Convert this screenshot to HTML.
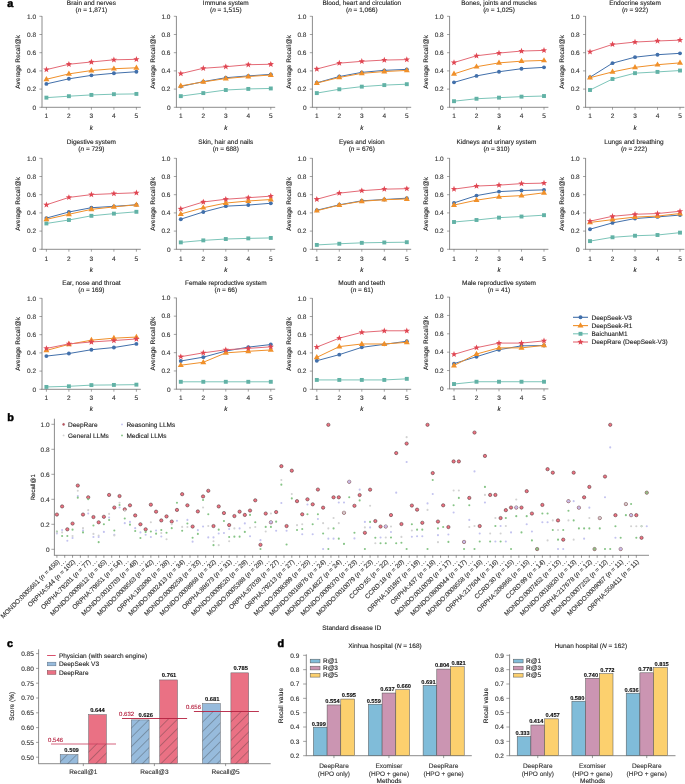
<!DOCTYPE html>
<html><head><meta charset="utf-8"><title>Figure</title>
<style>
html,body{margin:0;padding:0;background:#fff;}
body{width:685px;height:784px;overflow:hidden;}
svg{display:block;will-change:transform;}
body{-webkit-font-smoothing:antialiased;}
svg text{text-rendering:geometricPrecision;stroke-width:0.12px;stroke-linejoin:round;}
</style></head><body>
<svg width="685" height="784" viewBox="0 0 685 784">
<defs>
<pattern id="hatch" patternUnits="userSpaceOnUse" width="6.6" height="6.6" patternTransform="rotate(45)">
<line x1="0" y1="0" x2="0" y2="6.6" stroke="#333" stroke-width="0.6"/>
</pattern>
</defs>
<rect width="685" height="784" fill="#fff"/>
<g font-family="'Liberation Sans', sans-serif" font-size="6.5" fill="#222">
<text x="91.4" y="4.7" text-anchor="middle" stroke="#222">Brain and nerves</text>
<text x="91.4" y="12.1" text-anchor="middle" stroke="#222">(<tspan font-style="italic">n</tspan> = 1,871)</text>
<line x1="42" y1="16.1" x2="42" y2="107.3" stroke="#8c8c8c" stroke-width="1"/>
<line x1="41.5" y1="107.3" x2="140.8" y2="107.3" stroke="#8c8c8c" stroke-width="1"/>
<line x1="39.4" y1="107.3" x2="42" y2="107.3" stroke="#666" stroke-width="0.6"/>
<text x="36.1" y="109.6" text-anchor="end" fill="#333" stroke="#333">0</text>
<line x1="39.4" y1="89.1" x2="42" y2="89.1" stroke="#666" stroke-width="0.6"/>
<text x="36.1" y="91.4" text-anchor="end" fill="#333" stroke="#333">0.2</text>
<line x1="39.4" y1="70.9" x2="42" y2="70.9" stroke="#666" stroke-width="0.6"/>
<text x="36.1" y="73.2" text-anchor="end" fill="#333" stroke="#333">0.4</text>
<line x1="39.4" y1="52.7" x2="42" y2="52.7" stroke="#666" stroke-width="0.6"/>
<text x="36.1" y="55" text-anchor="end" fill="#333" stroke="#333">0.6</text>
<line x1="39.4" y1="34.5" x2="42" y2="34.5" stroke="#666" stroke-width="0.6"/>
<text x="36.1" y="36.8" text-anchor="end" fill="#333" stroke="#333">0.8</text>
<line x1="39.4" y1="16.3" x2="42" y2="16.3" stroke="#666" stroke-width="0.6"/>
<text x="36.1" y="18.6" text-anchor="end" fill="#333" stroke="#333">1.0</text>
<line x1="46.4" y1="107.3" x2="46.4" y2="109.7" stroke="#666" stroke-width="0.6"/>
<text x="46.4" y="118.4" text-anchor="middle" fill="#333" stroke="#333">1</text>
<line x1="68.9" y1="107.3" x2="68.9" y2="109.7" stroke="#666" stroke-width="0.6"/>
<text x="68.9" y="118.4" text-anchor="middle" fill="#333" stroke="#333">2</text>
<line x1="91.4" y1="107.3" x2="91.4" y2="109.7" stroke="#666" stroke-width="0.6"/>
<text x="91.4" y="118.4" text-anchor="middle" fill="#333" stroke="#333">3</text>
<line x1="113.9" y1="107.3" x2="113.9" y2="109.7" stroke="#666" stroke-width="0.6"/>
<text x="113.9" y="118.4" text-anchor="middle" fill="#333" stroke="#333">4</text>
<line x1="136.4" y1="107.3" x2="136.4" y2="109.7" stroke="#666" stroke-width="0.6"/>
<text x="136.4" y="118.4" text-anchor="middle" fill="#333" stroke="#333">5</text>
<text x="91.4" y="129.9" text-anchor="middle" font-style="italic" stroke="#222">k</text>
<text transform="translate(20.4,61.8) rotate(-90)" text-anchor="middle" stroke="#222">Average Recall@k</text>
<polyline points="46.4,97.65 68.9,96.2 91.4,94.92 113.9,94.2 136.4,93.92" fill="none" stroke="#7cc5b9" stroke-width="1"/>
<rect x="44.45" y="95.7" width="3.9" height="3.9" fill="#62b2a6"/>
<rect x="66.95" y="94.25" width="3.9" height="3.9" fill="#62b2a6"/>
<rect x="89.45" y="92.97" width="3.9" height="3.9" fill="#62b2a6"/>
<rect x="111.95" y="92.25" width="3.9" height="3.9" fill="#62b2a6"/>
<rect x="134.45" y="91.97" width="3.9" height="3.9" fill="#62b2a6"/>
<polyline points="46.4,83.91 68.9,78.82 91.4,75.36 113.9,73.27 136.4,71.72" fill="none" stroke="#4270ab" stroke-width="1"/>
<circle cx="46.4" cy="83.91" r="1.95" fill="#4270ab"/>
<circle cx="68.9" cy="78.82" r="1.95" fill="#4270ab"/>
<circle cx="91.4" cy="75.36" r="1.95" fill="#4270ab"/>
<circle cx="113.9" cy="73.27" r="1.95" fill="#4270ab"/>
<circle cx="136.4" cy="71.72" r="1.95" fill="#4270ab"/>
<polyline points="46.4,79.27 68.9,73.9 91.4,70.54 113.9,68.72 136.4,67.81" fill="none" stroke="#f0902a" stroke-width="1"/>
<path d="M46.4,75.97L49.4,81.17L43.4,81.17Z" fill="#f0902a"/>
<path d="M68.9,70.6L71.9,75.8L65.9,75.8Z" fill="#f0902a"/>
<path d="M91.4,67.24L94.4,72.44L88.4,72.44Z" fill="#f0902a"/>
<path d="M113.9,65.42L116.9,70.62L110.9,70.62Z" fill="#f0902a"/>
<path d="M136.4,64.51L139.4,69.71L133.4,69.71Z" fill="#f0902a"/>
<polyline points="46.4,69.63 68.9,64.26 91.4,61.98 113.9,59.8 136.4,59.34" fill="none" stroke="#e46a76" stroke-width="1"/>
<path d="M46.4,66.33L47.22,68.49L49.54,68.61L47.73,70.06L48.34,72.3L46.4,71.03L44.46,72.3L45.07,70.06L43.26,68.61L45.58,68.49Z" fill="#e04652"/>
<path d="M68.9,60.96L69.72,63.12L72.04,63.24L70.23,64.69L70.84,66.93L68.9,65.66L66.96,66.93L67.57,64.69L65.76,63.24L68.08,63.12Z" fill="#e04652"/>
<path d="M91.4,58.68L92.22,60.85L94.54,60.96L92.73,62.41L93.34,64.65L91.4,63.38L89.46,64.65L90.07,62.41L88.26,60.96L90.58,60.85Z" fill="#e04652"/>
<path d="M113.9,56.5L114.72,58.67L117.04,58.78L115.23,60.23L115.84,62.47L113.9,61.2L111.96,62.47L112.57,60.23L110.76,58.78L113.08,58.67Z" fill="#e04652"/>
<path d="M136.4,56.04L137.22,58.21L139.54,58.32L137.73,59.78L138.34,62.01L136.4,60.74L134.46,62.01L135.07,59.78L133.26,58.32L135.58,58.21Z" fill="#e04652"/>
<text x="225.8" y="4.7" text-anchor="middle" stroke="#222">Immune system</text>
<text x="225.8" y="12.1" text-anchor="middle" stroke="#222">(<tspan font-style="italic">n</tspan> = 1,515)</text>
<line x1="176.4" y1="16.1" x2="176.4" y2="107.3" stroke="#8c8c8c" stroke-width="1"/>
<line x1="175.9" y1="107.3" x2="275.2" y2="107.3" stroke="#8c8c8c" stroke-width="1"/>
<line x1="173.8" y1="107.3" x2="176.4" y2="107.3" stroke="#666" stroke-width="0.6"/>
<text x="170.5" y="109.6" text-anchor="end" fill="#333" stroke="#333">0</text>
<line x1="173.8" y1="89.1" x2="176.4" y2="89.1" stroke="#666" stroke-width="0.6"/>
<text x="170.5" y="91.4" text-anchor="end" fill="#333" stroke="#333">0.2</text>
<line x1="173.8" y1="70.9" x2="176.4" y2="70.9" stroke="#666" stroke-width="0.6"/>
<text x="170.5" y="73.2" text-anchor="end" fill="#333" stroke="#333">0.4</text>
<line x1="173.8" y1="52.7" x2="176.4" y2="52.7" stroke="#666" stroke-width="0.6"/>
<text x="170.5" y="55" text-anchor="end" fill="#333" stroke="#333">0.6</text>
<line x1="173.8" y1="34.5" x2="176.4" y2="34.5" stroke="#666" stroke-width="0.6"/>
<text x="170.5" y="36.8" text-anchor="end" fill="#333" stroke="#333">0.8</text>
<line x1="173.8" y1="16.3" x2="176.4" y2="16.3" stroke="#666" stroke-width="0.6"/>
<text x="170.5" y="18.6" text-anchor="end" fill="#333" stroke="#333">1.0</text>
<line x1="180.8" y1="107.3" x2="180.8" y2="109.7" stroke="#666" stroke-width="0.6"/>
<text x="180.8" y="118.4" text-anchor="middle" fill="#333" stroke="#333">1</text>
<line x1="203.3" y1="107.3" x2="203.3" y2="109.7" stroke="#666" stroke-width="0.6"/>
<text x="203.3" y="118.4" text-anchor="middle" fill="#333" stroke="#333">2</text>
<line x1="225.8" y1="107.3" x2="225.8" y2="109.7" stroke="#666" stroke-width="0.6"/>
<text x="225.8" y="118.4" text-anchor="middle" fill="#333" stroke="#333">3</text>
<line x1="248.3" y1="107.3" x2="248.3" y2="109.7" stroke="#666" stroke-width="0.6"/>
<text x="248.3" y="118.4" text-anchor="middle" fill="#333" stroke="#333">4</text>
<line x1="270.8" y1="107.3" x2="270.8" y2="109.7" stroke="#666" stroke-width="0.6"/>
<text x="270.8" y="118.4" text-anchor="middle" fill="#333" stroke="#333">5</text>
<text x="225.8" y="129.9" text-anchor="middle" font-style="italic" stroke="#222">k</text>
<text transform="translate(154.8,61.8) rotate(-90)" text-anchor="middle" stroke="#222">Average Recall@k</text>
<polyline points="180.8,96.15 203.3,93.1 225.8,90.01 248.3,88.92 270.8,88.46" fill="none" stroke="#7cc5b9" stroke-width="1"/>
<rect x="178.85" y="94.2" width="3.9" height="3.9" fill="#62b2a6"/>
<rect x="201.35" y="91.15" width="3.9" height="3.9" fill="#62b2a6"/>
<rect x="223.85" y="88.06" width="3.9" height="3.9" fill="#62b2a6"/>
<rect x="246.35" y="86.97" width="3.9" height="3.9" fill="#62b2a6"/>
<rect x="268.85" y="86.51" width="3.9" height="3.9" fill="#62b2a6"/>
<polyline points="180.8,86.46 203.3,81.64 225.8,77.72 248.3,75.91 270.8,74.36" fill="none" stroke="#4270ab" stroke-width="1"/>
<circle cx="180.8" cy="86.46" r="1.95" fill="#4270ab"/>
<circle cx="203.3" cy="81.64" r="1.95" fill="#4270ab"/>
<circle cx="225.8" cy="77.72" r="1.95" fill="#4270ab"/>
<circle cx="248.3" cy="75.91" r="1.95" fill="#4270ab"/>
<circle cx="270.8" cy="74.36" r="1.95" fill="#4270ab"/>
<polyline points="180.8,85.91 203.3,81.91 225.8,78.54 248.3,76.54 270.8,75" fill="none" stroke="#f0902a" stroke-width="1"/>
<path d="M180.8,82.61L183.8,87.81L177.8,87.81Z" fill="#f0902a"/>
<path d="M203.3,78.61L206.3,83.81L200.3,83.81Z" fill="#f0902a"/>
<path d="M225.8,75.24L228.8,80.44L222.8,80.44Z" fill="#f0902a"/>
<path d="M248.3,73.24L251.3,78.44L245.3,78.44Z" fill="#f0902a"/>
<path d="M270.8,71.7L273.8,76.9L267.8,76.9Z" fill="#f0902a"/>
<polyline points="180.8,73.63 203.3,68.26 225.8,66.71 248.3,64.71 270.8,64.26" fill="none" stroke="#e46a76" stroke-width="1"/>
<path d="M180.8,70.33L181.62,72.5L183.94,72.61L182.13,74.06L182.74,76.3L180.8,75.03L178.86,76.3L179.47,74.06L177.66,72.61L179.98,72.5Z" fill="#e04652"/>
<path d="M203.3,64.96L204.12,67.13L206.44,67.24L204.63,68.69L205.24,70.93L203.3,69.66L201.36,70.93L201.97,68.69L200.16,67.24L202.48,67.13Z" fill="#e04652"/>
<path d="M225.8,63.41L226.62,65.58L228.94,65.69L227.13,67.15L227.74,69.38L225.8,68.11L223.86,69.38L224.47,67.15L222.66,65.69L224.98,65.58Z" fill="#e04652"/>
<path d="M248.3,61.41L249.12,63.58L251.44,63.69L249.63,65.14L250.24,67.38L248.3,66.11L246.36,67.38L246.97,65.14L245.16,63.69L247.48,63.58Z" fill="#e04652"/>
<path d="M270.8,60.96L271.62,63.12L273.94,63.24L272.13,64.69L272.74,66.93L270.8,65.66L268.86,66.93L269.47,64.69L267.66,63.24L269.98,63.12Z" fill="#e04652"/>
<text x="361.8" y="4.7" text-anchor="middle" stroke="#222">Blood, heart and circulation</text>
<text x="361.8" y="12.1" text-anchor="middle" stroke="#222">(<tspan font-style="italic">n</tspan> = 1,066)</text>
<line x1="312.4" y1="16.1" x2="312.4" y2="107.3" stroke="#8c8c8c" stroke-width="1"/>
<line x1="311.9" y1="107.3" x2="411.2" y2="107.3" stroke="#8c8c8c" stroke-width="1"/>
<line x1="309.8" y1="107.3" x2="312.4" y2="107.3" stroke="#666" stroke-width="0.6"/>
<text x="306.5" y="109.6" text-anchor="end" fill="#333" stroke="#333">0</text>
<line x1="309.8" y1="89.1" x2="312.4" y2="89.1" stroke="#666" stroke-width="0.6"/>
<text x="306.5" y="91.4" text-anchor="end" fill="#333" stroke="#333">0.2</text>
<line x1="309.8" y1="70.9" x2="312.4" y2="70.9" stroke="#666" stroke-width="0.6"/>
<text x="306.5" y="73.2" text-anchor="end" fill="#333" stroke="#333">0.4</text>
<line x1="309.8" y1="52.7" x2="312.4" y2="52.7" stroke="#666" stroke-width="0.6"/>
<text x="306.5" y="55" text-anchor="end" fill="#333" stroke="#333">0.6</text>
<line x1="309.8" y1="34.5" x2="312.4" y2="34.5" stroke="#666" stroke-width="0.6"/>
<text x="306.5" y="36.8" text-anchor="end" fill="#333" stroke="#333">0.8</text>
<line x1="309.8" y1="16.3" x2="312.4" y2="16.3" stroke="#666" stroke-width="0.6"/>
<text x="306.5" y="18.6" text-anchor="end" fill="#333" stroke="#333">1.0</text>
<line x1="316.8" y1="107.3" x2="316.8" y2="109.7" stroke="#666" stroke-width="0.6"/>
<text x="316.8" y="118.4" text-anchor="middle" fill="#333" stroke="#333">1</text>
<line x1="339.3" y1="107.3" x2="339.3" y2="109.7" stroke="#666" stroke-width="0.6"/>
<text x="339.3" y="118.4" text-anchor="middle" fill="#333" stroke="#333">2</text>
<line x1="361.8" y1="107.3" x2="361.8" y2="109.7" stroke="#666" stroke-width="0.6"/>
<text x="361.8" y="118.4" text-anchor="middle" fill="#333" stroke="#333">3</text>
<line x1="384.3" y1="107.3" x2="384.3" y2="109.7" stroke="#666" stroke-width="0.6"/>
<text x="384.3" y="118.4" text-anchor="middle" fill="#333" stroke="#333">4</text>
<line x1="406.8" y1="107.3" x2="406.8" y2="109.7" stroke="#666" stroke-width="0.6"/>
<text x="406.8" y="118.4" text-anchor="middle" fill="#333" stroke="#333">5</text>
<text x="361.8" y="129.9" text-anchor="middle" font-style="italic" stroke="#222">k</text>
<text transform="translate(290.8,61.8) rotate(-90)" text-anchor="middle" stroke="#222">Average Recall@k</text>
<polyline points="316.8,93.1 339.3,89.28 361.8,86.64 384.3,85.1 406.8,84.19" fill="none" stroke="#7cc5b9" stroke-width="1"/>
<rect x="314.85" y="91.15" width="3.9" height="3.9" fill="#62b2a6"/>
<rect x="337.35" y="87.33" width="3.9" height="3.9" fill="#62b2a6"/>
<rect x="359.85" y="84.69" width="3.9" height="3.9" fill="#62b2a6"/>
<rect x="382.35" y="83.15" width="3.9" height="3.9" fill="#62b2a6"/>
<rect x="404.85" y="82.24" width="3.9" height="3.9" fill="#62b2a6"/>
<polyline points="316.8,82.82 339.3,76.54 361.8,72.36 384.3,70.35 406.8,69.35" fill="none" stroke="#4270ab" stroke-width="1"/>
<circle cx="316.8" cy="82.82" r="1.95" fill="#4270ab"/>
<circle cx="339.3" cy="76.54" r="1.95" fill="#4270ab"/>
<circle cx="361.8" cy="72.36" r="1.95" fill="#4270ab"/>
<circle cx="384.3" cy="70.35" r="1.95" fill="#4270ab"/>
<circle cx="406.8" cy="69.35" r="1.95" fill="#4270ab"/>
<polyline points="316.8,83.09 339.3,77.45 361.8,73.36 384.3,71.54 406.8,70.44" fill="none" stroke="#f0902a" stroke-width="1"/>
<path d="M316.8,79.79L319.8,84.99L313.8,84.99Z" fill="#f0902a"/>
<path d="M339.3,74.15L342.3,79.35L336.3,79.35Z" fill="#f0902a"/>
<path d="M361.8,70.06L364.8,75.26L358.8,75.26Z" fill="#f0902a"/>
<path d="M384.3,68.24L387.3,73.44L381.3,73.44Z" fill="#f0902a"/>
<path d="M406.8,67.14L409.8,72.34L403.8,72.34Z" fill="#f0902a"/>
<polyline points="316.8,68.99 339.3,63.16 361.8,61.34 384.3,60.07 406.8,59.62" fill="none" stroke="#e46a76" stroke-width="1"/>
<path d="M316.8,65.69L317.62,67.86L319.94,67.97L318.13,69.42L318.74,71.66L316.8,70.39L314.86,71.66L315.47,69.42L313.66,67.97L315.98,67.86Z" fill="#e04652"/>
<path d="M339.3,59.87L340.12,62.03L342.44,62.15L340.63,63.6L341.24,65.83L339.3,64.56L337.36,65.83L337.97,63.6L336.16,62.15L338.48,62.03Z" fill="#e04652"/>
<path d="M361.8,58.05L362.62,60.21L364.94,60.33L363.13,61.78L363.74,64.01L361.8,62.74L359.86,64.01L360.47,61.78L358.66,60.33L360.98,60.21Z" fill="#e04652"/>
<path d="M384.3,56.77L385.12,58.94L387.44,59.05L385.63,60.5L386.24,62.74L384.3,61.47L382.36,62.74L382.97,60.5L381.16,59.05L383.48,58.94Z" fill="#e04652"/>
<path d="M406.8,56.32L407.62,58.48L409.94,58.6L408.13,60.05L408.74,62.29L406.8,61.02L404.86,62.29L405.47,60.05L403.66,58.6L405.98,58.48Z" fill="#e04652"/>
<text x="499" y="4.7" text-anchor="middle" stroke="#222">Bones, joints and muscles</text>
<text x="499" y="12.1" text-anchor="middle" stroke="#222">(<tspan font-style="italic">n</tspan> = 1,025)</text>
<line x1="449.6" y1="16.1" x2="449.6" y2="107.3" stroke="#8c8c8c" stroke-width="1"/>
<line x1="449.1" y1="107.3" x2="548.4" y2="107.3" stroke="#8c8c8c" stroke-width="1"/>
<line x1="447" y1="107.3" x2="449.6" y2="107.3" stroke="#666" stroke-width="0.6"/>
<text x="443.7" y="109.6" text-anchor="end" fill="#333" stroke="#333">0</text>
<line x1="447" y1="89.1" x2="449.6" y2="89.1" stroke="#666" stroke-width="0.6"/>
<text x="443.7" y="91.4" text-anchor="end" fill="#333" stroke="#333">0.2</text>
<line x1="447" y1="70.9" x2="449.6" y2="70.9" stroke="#666" stroke-width="0.6"/>
<text x="443.7" y="73.2" text-anchor="end" fill="#333" stroke="#333">0.4</text>
<line x1="447" y1="52.7" x2="449.6" y2="52.7" stroke="#666" stroke-width="0.6"/>
<text x="443.7" y="55" text-anchor="end" fill="#333" stroke="#333">0.6</text>
<line x1="447" y1="34.5" x2="449.6" y2="34.5" stroke="#666" stroke-width="0.6"/>
<text x="443.7" y="36.8" text-anchor="end" fill="#333" stroke="#333">0.8</text>
<line x1="447" y1="16.3" x2="449.6" y2="16.3" stroke="#666" stroke-width="0.6"/>
<text x="443.7" y="18.6" text-anchor="end" fill="#333" stroke="#333">1.0</text>
<line x1="454" y1="107.3" x2="454" y2="109.7" stroke="#666" stroke-width="0.6"/>
<text x="454" y="118.4" text-anchor="middle" fill="#333" stroke="#333">1</text>
<line x1="476.5" y1="107.3" x2="476.5" y2="109.7" stroke="#666" stroke-width="0.6"/>
<text x="476.5" y="118.4" text-anchor="middle" fill="#333" stroke="#333">2</text>
<line x1="499" y1="107.3" x2="499" y2="109.7" stroke="#666" stroke-width="0.6"/>
<text x="499" y="118.4" text-anchor="middle" fill="#333" stroke="#333">3</text>
<line x1="521.5" y1="107.3" x2="521.5" y2="109.7" stroke="#666" stroke-width="0.6"/>
<text x="521.5" y="118.4" text-anchor="middle" fill="#333" stroke="#333">4</text>
<line x1="544" y1="107.3" x2="544" y2="109.7" stroke="#666" stroke-width="0.6"/>
<text x="544" y="118.4" text-anchor="middle" fill="#333" stroke="#333">5</text>
<text x="499" y="129.9" text-anchor="middle" font-style="italic" stroke="#222">k</text>
<text transform="translate(428,61.8) rotate(-90)" text-anchor="middle" stroke="#222">Average Recall@k</text>
<polyline points="454,101.2 476.5,98.75 499,97.65 521.5,96.65 544,96.02" fill="none" stroke="#7cc5b9" stroke-width="1"/>
<rect x="452.05" y="99.25" width="3.9" height="3.9" fill="#62b2a6"/>
<rect x="474.55" y="96.8" width="3.9" height="3.9" fill="#62b2a6"/>
<rect x="497.05" y="95.7" width="3.9" height="3.9" fill="#62b2a6"/>
<rect x="519.55" y="94.7" width="3.9" height="3.9" fill="#62b2a6"/>
<rect x="542.05" y="94.07" width="3.9" height="3.9" fill="#62b2a6"/>
<polyline points="454,82.37 476.5,75.91 499,71.72 521.5,68.72 544,67.35" fill="none" stroke="#4270ab" stroke-width="1"/>
<circle cx="454" cy="82.37" r="1.95" fill="#4270ab"/>
<circle cx="476.5" cy="75.91" r="1.95" fill="#4270ab"/>
<circle cx="499" cy="71.72" r="1.95" fill="#4270ab"/>
<circle cx="521.5" cy="68.72" r="1.95" fill="#4270ab"/>
<circle cx="544" cy="67.35" r="1.95" fill="#4270ab"/>
<polyline points="454,73.9 476.5,66.71 499,62.89 521.5,61.16 544,60.43" fill="none" stroke="#f0902a" stroke-width="1"/>
<path d="M454,70.6L457,75.8L451,75.8Z" fill="#f0902a"/>
<path d="M476.5,63.41L479.5,68.61L473.5,68.61Z" fill="#f0902a"/>
<path d="M499,59.59L502,64.79L496,64.79Z" fill="#f0902a"/>
<path d="M521.5,57.86L524.5,63.06L518.5,63.06Z" fill="#f0902a"/>
<path d="M544,57.13L547,62.33L541,62.33Z" fill="#f0902a"/>
<polyline points="454,62.53 476.5,55.79 499,53.06 521.5,51.06 544,50.42" fill="none" stroke="#e46a76" stroke-width="1"/>
<path d="M454,59.23L454.82,61.4L457.14,61.51L455.33,62.96L455.94,65.2L454,63.93L452.06,65.2L452.67,62.96L450.86,61.51L453.18,61.4Z" fill="#e04652"/>
<path d="M476.5,52.49L477.32,54.66L479.64,54.77L477.83,56.23L478.44,58.46L476.5,57.19L474.56,58.46L475.17,56.23L473.36,54.77L475.68,54.66Z" fill="#e04652"/>
<path d="M499,49.76L499.82,51.93L502.14,52.04L500.33,53.5L500.94,55.73L499,54.46L497.06,55.73L497.67,53.5L495.86,52.04L498.18,51.93Z" fill="#e04652"/>
<path d="M521.5,47.76L522.32,49.93L524.64,50.04L522.83,51.49L523.44,53.73L521.5,52.46L519.56,53.73L520.17,51.49L518.36,50.04L520.68,49.93Z" fill="#e04652"/>
<path d="M544,47.12L544.82,49.29L547.14,49.41L545.33,50.86L545.94,53.09L544,51.82L542.06,53.09L542.67,50.86L540.86,49.41L543.18,49.29Z" fill="#e04652"/>
<text x="635" y="4.7" text-anchor="middle" stroke="#222">Endocrine system</text>
<text x="635" y="12.1" text-anchor="middle" stroke="#222">(<tspan font-style="italic">n</tspan> = 922)</text>
<line x1="585.6" y1="16.1" x2="585.6" y2="107.3" stroke="#8c8c8c" stroke-width="1"/>
<line x1="585.1" y1="107.3" x2="684.4" y2="107.3" stroke="#8c8c8c" stroke-width="1"/>
<line x1="583" y1="107.3" x2="585.6" y2="107.3" stroke="#666" stroke-width="0.6"/>
<text x="579.7" y="109.6" text-anchor="end" fill="#333" stroke="#333">0</text>
<line x1="583" y1="89.1" x2="585.6" y2="89.1" stroke="#666" stroke-width="0.6"/>
<text x="579.7" y="91.4" text-anchor="end" fill="#333" stroke="#333">0.2</text>
<line x1="583" y1="70.9" x2="585.6" y2="70.9" stroke="#666" stroke-width="0.6"/>
<text x="579.7" y="73.2" text-anchor="end" fill="#333" stroke="#333">0.4</text>
<line x1="583" y1="52.7" x2="585.6" y2="52.7" stroke="#666" stroke-width="0.6"/>
<text x="579.7" y="55" text-anchor="end" fill="#333" stroke="#333">0.6</text>
<line x1="583" y1="34.5" x2="585.6" y2="34.5" stroke="#666" stroke-width="0.6"/>
<text x="579.7" y="36.8" text-anchor="end" fill="#333" stroke="#333">0.8</text>
<line x1="583" y1="16.3" x2="585.6" y2="16.3" stroke="#666" stroke-width="0.6"/>
<text x="579.7" y="18.6" text-anchor="end" fill="#333" stroke="#333">1.0</text>
<line x1="590" y1="107.3" x2="590" y2="109.7" stroke="#666" stroke-width="0.6"/>
<text x="590" y="118.4" text-anchor="middle" fill="#333" stroke="#333">1</text>
<line x1="612.5" y1="107.3" x2="612.5" y2="109.7" stroke="#666" stroke-width="0.6"/>
<text x="612.5" y="118.4" text-anchor="middle" fill="#333" stroke="#333">2</text>
<line x1="635" y1="107.3" x2="635" y2="109.7" stroke="#666" stroke-width="0.6"/>
<text x="635" y="118.4" text-anchor="middle" fill="#333" stroke="#333">3</text>
<line x1="657.5" y1="107.3" x2="657.5" y2="109.7" stroke="#666" stroke-width="0.6"/>
<text x="657.5" y="118.4" text-anchor="middle" fill="#333" stroke="#333">4</text>
<line x1="680" y1="107.3" x2="680" y2="109.7" stroke="#666" stroke-width="0.6"/>
<text x="680" y="118.4" text-anchor="middle" fill="#333" stroke="#333">5</text>
<text x="635" y="129.9" text-anchor="middle" font-style="italic" stroke="#222">k</text>
<text transform="translate(564,61.8) rotate(-90)" text-anchor="middle" stroke="#222">Average Recall@k</text>
<polyline points="590,90.01 612.5,79 635,73.17 657.5,71.9 680,70.54" fill="none" stroke="#7cc5b9" stroke-width="1"/>
<rect x="588.05" y="88.06" width="3.9" height="3.9" fill="#62b2a6"/>
<rect x="610.55" y="77.05" width="3.9" height="3.9" fill="#62b2a6"/>
<rect x="633.05" y="71.22" width="3.9" height="3.9" fill="#62b2a6"/>
<rect x="655.55" y="69.95" width="3.9" height="3.9" fill="#62b2a6"/>
<rect x="678.05" y="68.59" width="3.9" height="3.9" fill="#62b2a6"/>
<polyline points="590,77.27 612.5,63.16 635,57.16 657.5,54.7 680,53.34" fill="none" stroke="#4270ab" stroke-width="1"/>
<circle cx="590" cy="77.27" r="1.95" fill="#4270ab"/>
<circle cx="612.5" cy="63.16" r="1.95" fill="#4270ab"/>
<circle cx="635" cy="57.16" r="1.95" fill="#4270ab"/>
<circle cx="657.5" cy="54.7" r="1.95" fill="#4270ab"/>
<circle cx="680" cy="53.34" r="1.95" fill="#4270ab"/>
<polyline points="590,77.72 612.5,71.9 635,67.35 657.5,64.71 680,62.89" fill="none" stroke="#f0902a" stroke-width="1"/>
<path d="M590,74.42L593,79.62L587,79.62Z" fill="#f0902a"/>
<path d="M612.5,68.6L615.5,73.8L609.5,73.8Z" fill="#f0902a"/>
<path d="M635,64.05L638,69.25L632,69.25Z" fill="#f0902a"/>
<path d="M657.5,61.41L660.5,66.61L654.5,66.61Z" fill="#f0902a"/>
<path d="M680,59.59L683,64.79L677,64.79Z" fill="#f0902a"/>
<polyline points="590,51.79 612.5,44.42 635,42.05 657.5,40.96 680,40.14" fill="none" stroke="#e46a76" stroke-width="1"/>
<path d="M590,48.49L590.82,50.66L593.14,50.77L591.33,52.22L591.94,54.46L590,53.19L588.06,54.46L588.67,52.22L586.86,50.77L589.18,50.66Z" fill="#e04652"/>
<path d="M612.5,41.12L613.32,43.29L615.64,43.4L613.83,44.85L614.44,47.09L612.5,45.82L610.56,47.09L611.17,44.85L609.36,43.4L611.68,43.29Z" fill="#e04652"/>
<path d="M635,38.75L635.82,40.92L638.14,41.03L636.33,42.49L636.94,44.72L635,43.45L633.06,44.72L633.67,42.49L631.86,41.03L634.18,40.92Z" fill="#e04652"/>
<path d="M657.5,37.66L658.32,39.83L660.64,39.94L658.83,41.39L659.44,43.63L657.5,42.36L655.56,43.63L656.17,41.39L654.36,39.94L656.68,39.83Z" fill="#e04652"/>
<path d="M680,36.84L680.82,39.01L683.14,39.12L681.33,40.57L681.94,42.81L680,41.54L678.06,42.81L678.67,40.57L676.86,39.12L679.18,39.01Z" fill="#e04652"/>
<text x="91.4" y="143.9" text-anchor="middle" stroke="#222">Digestive system</text>
<text x="91.4" y="151.1" text-anchor="middle" stroke="#222">(<tspan font-style="italic">n</tspan> = 729)</text>
<line x1="42" y1="158.1" x2="42" y2="249.3" stroke="#8c8c8c" stroke-width="1"/>
<line x1="41.5" y1="249.3" x2="140.8" y2="249.3" stroke="#8c8c8c" stroke-width="1"/>
<line x1="39.4" y1="249.3" x2="42" y2="249.3" stroke="#666" stroke-width="0.6"/>
<text x="36.1" y="251.6" text-anchor="end" fill="#333" stroke="#333">0</text>
<line x1="39.4" y1="231.1" x2="42" y2="231.1" stroke="#666" stroke-width="0.6"/>
<text x="36.1" y="233.4" text-anchor="end" fill="#333" stroke="#333">0.2</text>
<line x1="39.4" y1="212.9" x2="42" y2="212.9" stroke="#666" stroke-width="0.6"/>
<text x="36.1" y="215.2" text-anchor="end" fill="#333" stroke="#333">0.4</text>
<line x1="39.4" y1="194.7" x2="42" y2="194.7" stroke="#666" stroke-width="0.6"/>
<text x="36.1" y="197" text-anchor="end" fill="#333" stroke="#333">0.6</text>
<line x1="39.4" y1="176.5" x2="42" y2="176.5" stroke="#666" stroke-width="0.6"/>
<text x="36.1" y="178.8" text-anchor="end" fill="#333" stroke="#333">0.8</text>
<line x1="39.4" y1="158.3" x2="42" y2="158.3" stroke="#666" stroke-width="0.6"/>
<text x="36.1" y="160.6" text-anchor="end" fill="#333" stroke="#333">1.0</text>
<line x1="46.4" y1="249.3" x2="46.4" y2="251.7" stroke="#666" stroke-width="0.6"/>
<text x="46.4" y="260.6" text-anchor="middle" fill="#333" stroke="#333">1</text>
<line x1="68.9" y1="249.3" x2="68.9" y2="251.7" stroke="#666" stroke-width="0.6"/>
<text x="68.9" y="260.6" text-anchor="middle" fill="#333" stroke="#333">2</text>
<line x1="91.4" y1="249.3" x2="91.4" y2="251.7" stroke="#666" stroke-width="0.6"/>
<text x="91.4" y="260.6" text-anchor="middle" fill="#333" stroke="#333">3</text>
<line x1="113.9" y1="249.3" x2="113.9" y2="251.7" stroke="#666" stroke-width="0.6"/>
<text x="113.9" y="260.6" text-anchor="middle" fill="#333" stroke="#333">4</text>
<line x1="136.4" y1="249.3" x2="136.4" y2="251.7" stroke="#666" stroke-width="0.6"/>
<text x="136.4" y="260.6" text-anchor="middle" fill="#333" stroke="#333">5</text>
<text x="91.4" y="271.9" text-anchor="middle" font-style="italic" stroke="#222">k</text>
<text transform="translate(20.4,203.8) rotate(-90)" text-anchor="middle" stroke="#222">Average Recall@k</text>
<polyline points="46.4,223.46 68.9,220 91.4,215.81 113.9,213.63 136.4,211.81" fill="none" stroke="#7cc5b9" stroke-width="1"/>
<rect x="44.45" y="221.51" width="3.9" height="3.9" fill="#62b2a6"/>
<rect x="66.95" y="218.05" width="3.9" height="3.9" fill="#62b2a6"/>
<rect x="89.45" y="213.86" width="3.9" height="3.9" fill="#62b2a6"/>
<rect x="111.95" y="211.68" width="3.9" height="3.9" fill="#62b2a6"/>
<rect x="134.45" y="209.86" width="3.9" height="3.9" fill="#62b2a6"/>
<polyline points="46.4,218.09 68.9,211.99 91.4,207.71 113.9,206.35 136.4,204.8" fill="none" stroke="#4270ab" stroke-width="1"/>
<circle cx="46.4" cy="218.09" r="1.95" fill="#4270ab"/>
<circle cx="68.9" cy="211.99" r="1.95" fill="#4270ab"/>
<circle cx="91.4" cy="207.71" r="1.95" fill="#4270ab"/>
<circle cx="113.9" cy="206.35" r="1.95" fill="#4270ab"/>
<circle cx="136.4" cy="204.8" r="1.95" fill="#4270ab"/>
<polyline points="46.4,219.36 68.9,214.27 91.4,209.35 113.9,206.89 136.4,204.8" fill="none" stroke="#f0902a" stroke-width="1"/>
<path d="M46.4,216.06L49.4,221.26L43.4,221.26Z" fill="#f0902a"/>
<path d="M68.9,210.97L71.9,216.17L65.9,216.17Z" fill="#f0902a"/>
<path d="M91.4,206.05L94.4,211.25L88.4,211.25Z" fill="#f0902a"/>
<path d="M113.9,203.59L116.9,208.79L110.9,208.79Z" fill="#f0902a"/>
<path d="M136.4,201.5L139.4,206.7L133.4,206.7Z" fill="#f0902a"/>
<polyline points="46.4,204.8 68.9,197.43 91.4,194.61 113.9,193.61 136.4,192.79" fill="none" stroke="#e46a76" stroke-width="1"/>
<path d="M46.4,201.5L47.22,203.67L49.54,203.78L47.73,205.23L48.34,207.47L46.4,206.2L44.46,207.47L45.07,205.23L43.26,203.78L45.58,203.67Z" fill="#e04652"/>
<path d="M68.9,194.13L69.72,196.3L72.04,196.41L70.23,197.86L70.84,200.1L68.9,198.83L66.96,200.1L67.57,197.86L65.76,196.41L68.08,196.3Z" fill="#e04652"/>
<path d="M91.4,191.31L92.22,193.48L94.54,193.59L92.73,195.04L93.34,197.28L91.4,196.01L89.46,197.28L90.07,195.04L88.26,193.59L90.58,193.48Z" fill="#e04652"/>
<path d="M113.9,190.31L114.72,192.48L117.04,192.59L115.23,194.04L115.84,196.28L113.9,195.01L111.96,196.28L112.57,194.04L110.76,192.59L113.08,192.48Z" fill="#e04652"/>
<path d="M136.4,189.49L137.22,191.66L139.54,191.77L137.73,193.22L138.34,195.46L136.4,194.19L134.46,195.46L135.07,193.22L133.26,191.77L135.58,191.66Z" fill="#e04652"/>
<text x="225.8" y="143.9" text-anchor="middle" stroke="#222">Skin, hair and nails</text>
<text x="225.8" y="151.1" text-anchor="middle" stroke="#222">(<tspan font-style="italic">n</tspan> = 688)</text>
<line x1="176.4" y1="158.1" x2="176.4" y2="249.3" stroke="#8c8c8c" stroke-width="1"/>
<line x1="175.9" y1="249.3" x2="275.2" y2="249.3" stroke="#8c8c8c" stroke-width="1"/>
<line x1="173.8" y1="249.3" x2="176.4" y2="249.3" stroke="#666" stroke-width="0.6"/>
<text x="170.5" y="251.6" text-anchor="end" fill="#333" stroke="#333">0</text>
<line x1="173.8" y1="231.1" x2="176.4" y2="231.1" stroke="#666" stroke-width="0.6"/>
<text x="170.5" y="233.4" text-anchor="end" fill="#333" stroke="#333">0.2</text>
<line x1="173.8" y1="212.9" x2="176.4" y2="212.9" stroke="#666" stroke-width="0.6"/>
<text x="170.5" y="215.2" text-anchor="end" fill="#333" stroke="#333">0.4</text>
<line x1="173.8" y1="194.7" x2="176.4" y2="194.7" stroke="#666" stroke-width="0.6"/>
<text x="170.5" y="197" text-anchor="end" fill="#333" stroke="#333">0.6</text>
<line x1="173.8" y1="176.5" x2="176.4" y2="176.5" stroke="#666" stroke-width="0.6"/>
<text x="170.5" y="178.8" text-anchor="end" fill="#333" stroke="#333">0.8</text>
<line x1="173.8" y1="158.3" x2="176.4" y2="158.3" stroke="#666" stroke-width="0.6"/>
<text x="170.5" y="160.6" text-anchor="end" fill="#333" stroke="#333">1.0</text>
<line x1="180.8" y1="249.3" x2="180.8" y2="251.7" stroke="#666" stroke-width="0.6"/>
<text x="180.8" y="260.6" text-anchor="middle" fill="#333" stroke="#333">1</text>
<line x1="203.3" y1="249.3" x2="203.3" y2="251.7" stroke="#666" stroke-width="0.6"/>
<text x="203.3" y="260.6" text-anchor="middle" fill="#333" stroke="#333">2</text>
<line x1="225.8" y1="249.3" x2="225.8" y2="251.7" stroke="#666" stroke-width="0.6"/>
<text x="225.8" y="260.6" text-anchor="middle" fill="#333" stroke="#333">3</text>
<line x1="248.3" y1="249.3" x2="248.3" y2="251.7" stroke="#666" stroke-width="0.6"/>
<text x="248.3" y="260.6" text-anchor="middle" fill="#333" stroke="#333">4</text>
<line x1="270.8" y1="249.3" x2="270.8" y2="251.7" stroke="#666" stroke-width="0.6"/>
<text x="270.8" y="260.6" text-anchor="middle" fill="#333" stroke="#333">5</text>
<text x="225.8" y="271.9" text-anchor="middle" font-style="italic" stroke="#222">k</text>
<text transform="translate(154.8,203.8) rotate(-90)" text-anchor="middle" stroke="#222">Average Recall@k</text>
<polyline points="180.8,242.38 203.3,240.38 225.8,239.02 248.3,238.38 270.8,237.93" fill="none" stroke="#7cc5b9" stroke-width="1"/>
<rect x="178.85" y="240.43" width="3.9" height="3.9" fill="#62b2a6"/>
<rect x="201.35" y="238.43" width="3.9" height="3.9" fill="#62b2a6"/>
<rect x="223.85" y="237.07" width="3.9" height="3.9" fill="#62b2a6"/>
<rect x="246.35" y="236.43" width="3.9" height="3.9" fill="#62b2a6"/>
<rect x="268.85" y="235.98" width="3.9" height="3.9" fill="#62b2a6"/>
<polyline points="180.8,219.18 203.3,211.99 225.8,206.17 248.3,205.07 270.8,203.25" fill="none" stroke="#4270ab" stroke-width="1"/>
<circle cx="180.8" cy="219.18" r="1.95" fill="#4270ab"/>
<circle cx="203.3" cy="211.99" r="1.95" fill="#4270ab"/>
<circle cx="225.8" cy="206.17" r="1.95" fill="#4270ab"/>
<circle cx="248.3" cy="205.07" r="1.95" fill="#4270ab"/>
<circle cx="270.8" cy="203.25" r="1.95" fill="#4270ab"/>
<polyline points="180.8,213.99 203.3,207.71 225.8,203.07 248.3,200.98 270.8,199.52" fill="none" stroke="#f0902a" stroke-width="1"/>
<path d="M180.8,210.69L183.8,215.89L177.8,215.89Z" fill="#f0902a"/>
<path d="M203.3,204.41L206.3,209.61L200.3,209.61Z" fill="#f0902a"/>
<path d="M225.8,199.77L228.8,204.97L222.8,204.97Z" fill="#f0902a"/>
<path d="M248.3,197.68L251.3,202.88L245.3,202.88Z" fill="#f0902a"/>
<path d="M270.8,196.22L273.8,201.42L267.8,201.42Z" fill="#f0902a"/>
<polyline points="180.8,208.9 203.3,201.98 225.8,199.25 248.3,197.7 270.8,196.16" fill="none" stroke="#e46a76" stroke-width="1"/>
<path d="M180.8,205.6L181.62,207.76L183.94,207.88L182.13,209.33L182.74,211.57L180.8,210.3L178.86,211.57L179.47,209.33L177.66,207.88L179.98,207.76Z" fill="#e04652"/>
<path d="M203.3,198.68L204.12,200.85L206.44,200.96L204.63,202.41L205.24,204.65L203.3,203.38L201.36,204.65L201.97,202.41L200.16,200.96L202.48,200.85Z" fill="#e04652"/>
<path d="M225.8,195.95L226.62,198.12L228.94,198.23L227.13,199.68L227.74,201.92L225.8,200.65L223.86,201.92L224.47,199.68L222.66,198.23L224.98,198.12Z" fill="#e04652"/>
<path d="M248.3,194.4L249.12,196.57L251.44,196.68L249.63,198.14L250.24,200.37L248.3,199.1L246.36,200.37L246.97,198.14L245.16,196.68L247.48,196.57Z" fill="#e04652"/>
<path d="M270.8,192.86L271.62,195.02L273.94,195.14L272.13,196.59L272.74,198.83L270.8,197.56L268.86,198.83L269.47,196.59L267.66,195.14L269.98,195.02Z" fill="#e04652"/>
<text x="361.8" y="143.9" text-anchor="middle" stroke="#222">Eyes and vision</text>
<text x="361.8" y="151.1" text-anchor="middle" stroke="#222">(<tspan font-style="italic">n</tspan> = 676)</text>
<line x1="312.4" y1="158.1" x2="312.4" y2="249.3" stroke="#8c8c8c" stroke-width="1"/>
<line x1="311.9" y1="249.3" x2="411.2" y2="249.3" stroke="#8c8c8c" stroke-width="1"/>
<line x1="309.8" y1="249.3" x2="312.4" y2="249.3" stroke="#666" stroke-width="0.6"/>
<text x="306.5" y="251.6" text-anchor="end" fill="#333" stroke="#333">0</text>
<line x1="309.8" y1="231.1" x2="312.4" y2="231.1" stroke="#666" stroke-width="0.6"/>
<text x="306.5" y="233.4" text-anchor="end" fill="#333" stroke="#333">0.2</text>
<line x1="309.8" y1="212.9" x2="312.4" y2="212.9" stroke="#666" stroke-width="0.6"/>
<text x="306.5" y="215.2" text-anchor="end" fill="#333" stroke="#333">0.4</text>
<line x1="309.8" y1="194.7" x2="312.4" y2="194.7" stroke="#666" stroke-width="0.6"/>
<text x="306.5" y="197" text-anchor="end" fill="#333" stroke="#333">0.6</text>
<line x1="309.8" y1="176.5" x2="312.4" y2="176.5" stroke="#666" stroke-width="0.6"/>
<text x="306.5" y="178.8" text-anchor="end" fill="#333" stroke="#333">0.8</text>
<line x1="309.8" y1="158.3" x2="312.4" y2="158.3" stroke="#666" stroke-width="0.6"/>
<text x="306.5" y="160.6" text-anchor="end" fill="#333" stroke="#333">1.0</text>
<line x1="316.8" y1="249.3" x2="316.8" y2="251.7" stroke="#666" stroke-width="0.6"/>
<text x="316.8" y="260.6" text-anchor="middle" fill="#333" stroke="#333">1</text>
<line x1="339.3" y1="249.3" x2="339.3" y2="251.7" stroke="#666" stroke-width="0.6"/>
<text x="339.3" y="260.6" text-anchor="middle" fill="#333" stroke="#333">2</text>
<line x1="361.8" y1="249.3" x2="361.8" y2="251.7" stroke="#666" stroke-width="0.6"/>
<text x="361.8" y="260.6" text-anchor="middle" fill="#333" stroke="#333">3</text>
<line x1="384.3" y1="249.3" x2="384.3" y2="251.7" stroke="#666" stroke-width="0.6"/>
<text x="384.3" y="260.6" text-anchor="middle" fill="#333" stroke="#333">4</text>
<line x1="406.8" y1="249.3" x2="406.8" y2="251.7" stroke="#666" stroke-width="0.6"/>
<text x="406.8" y="260.6" text-anchor="middle" fill="#333" stroke="#333">5</text>
<text x="361.8" y="271.9" text-anchor="middle" font-style="italic" stroke="#222">k</text>
<text transform="translate(290.8,203.8) rotate(-90)" text-anchor="middle" stroke="#222">Average Recall@k</text>
<polyline points="316.8,244.93 339.3,243.75 361.8,242.84 384.3,242.48 406.8,242.2" fill="none" stroke="#7cc5b9" stroke-width="1"/>
<rect x="314.85" y="242.98" width="3.9" height="3.9" fill="#62b2a6"/>
<rect x="337.35" y="241.8" width="3.9" height="3.9" fill="#62b2a6"/>
<rect x="359.85" y="240.89" width="3.9" height="3.9" fill="#62b2a6"/>
<rect x="382.35" y="240.53" width="3.9" height="3.9" fill="#62b2a6"/>
<rect x="404.85" y="240.25" width="3.9" height="3.9" fill="#62b2a6"/>
<polyline points="316.8,210.26 339.3,204.8 361.8,200.8 384.3,199.52 406.8,198.16" fill="none" stroke="#4270ab" stroke-width="1"/>
<circle cx="316.8" cy="210.26" r="1.95" fill="#4270ab"/>
<circle cx="339.3" cy="204.8" r="1.95" fill="#4270ab"/>
<circle cx="361.8" cy="200.8" r="1.95" fill="#4270ab"/>
<circle cx="384.3" cy="199.52" r="1.95" fill="#4270ab"/>
<circle cx="406.8" cy="198.16" r="1.95" fill="#4270ab"/>
<polyline points="316.8,210.72 339.3,205.07 361.8,201.25 384.3,199.71 406.8,198.98" fill="none" stroke="#f0902a" stroke-width="1"/>
<path d="M316.8,207.42L319.8,212.62L313.8,212.62Z" fill="#f0902a"/>
<path d="M339.3,201.77L342.3,206.97L336.3,206.97Z" fill="#f0902a"/>
<path d="M361.8,197.95L364.8,203.15L358.8,203.15Z" fill="#f0902a"/>
<path d="M384.3,196.41L387.3,201.61L381.3,201.61Z" fill="#f0902a"/>
<path d="M406.8,195.68L409.8,200.88L403.8,200.88Z" fill="#f0902a"/>
<polyline points="316.8,199.25 339.3,193.15 361.8,190.7 384.3,189.15 406.8,188.69" fill="none" stroke="#e46a76" stroke-width="1"/>
<path d="M316.8,195.95L317.62,198.12L319.94,198.23L318.13,199.68L318.74,201.92L316.8,200.65L314.86,201.92L315.47,199.68L313.66,198.23L315.98,198.12Z" fill="#e04652"/>
<path d="M339.3,189.85L340.12,192.02L342.44,192.13L340.63,193.59L341.24,195.82L339.3,194.55L337.36,195.82L337.97,193.59L336.16,192.13L338.48,192.02Z" fill="#e04652"/>
<path d="M361.8,187.4L362.62,189.56L364.94,189.68L363.13,191.13L363.74,193.37L361.8,192.1L359.86,193.37L360.47,191.13L358.66,189.68L360.98,189.56Z" fill="#e04652"/>
<path d="M384.3,185.85L385.12,188.02L387.44,188.13L385.63,189.58L386.24,191.82L384.3,190.55L382.36,191.82L382.97,189.58L381.16,188.13L383.48,188.02Z" fill="#e04652"/>
<path d="M406.8,185.39L407.62,187.56L409.94,187.67L408.13,189.13L408.74,191.36L406.8,190.09L404.86,191.36L405.47,189.13L403.66,187.67L405.98,187.56Z" fill="#e04652"/>
<text x="496.5" y="143.9" text-anchor="middle" stroke="#222">Kidneys and urinary system</text>
<text x="496.5" y="151.1" text-anchor="middle" stroke="#222">(<tspan font-style="italic">n</tspan> = 310)</text>
<line x1="449.6" y1="158.1" x2="449.6" y2="249.3" stroke="#8c8c8c" stroke-width="1"/>
<line x1="449.1" y1="249.3" x2="548.4" y2="249.3" stroke="#8c8c8c" stroke-width="1"/>
<line x1="447" y1="249.3" x2="449.6" y2="249.3" stroke="#666" stroke-width="0.6"/>
<text x="443.7" y="251.6" text-anchor="end" fill="#333" stroke="#333">0</text>
<line x1="447" y1="231.1" x2="449.6" y2="231.1" stroke="#666" stroke-width="0.6"/>
<text x="443.7" y="233.4" text-anchor="end" fill="#333" stroke="#333">0.2</text>
<line x1="447" y1="212.9" x2="449.6" y2="212.9" stroke="#666" stroke-width="0.6"/>
<text x="443.7" y="215.2" text-anchor="end" fill="#333" stroke="#333">0.4</text>
<line x1="447" y1="194.7" x2="449.6" y2="194.7" stroke="#666" stroke-width="0.6"/>
<text x="443.7" y="197" text-anchor="end" fill="#333" stroke="#333">0.6</text>
<line x1="447" y1="176.5" x2="449.6" y2="176.5" stroke="#666" stroke-width="0.6"/>
<text x="443.7" y="178.8" text-anchor="end" fill="#333" stroke="#333">0.8</text>
<line x1="447" y1="158.3" x2="449.6" y2="158.3" stroke="#666" stroke-width="0.6"/>
<text x="443.7" y="160.6" text-anchor="end" fill="#333" stroke="#333">1.0</text>
<line x1="454" y1="249.3" x2="454" y2="251.7" stroke="#666" stroke-width="0.6"/>
<text x="454" y="260.6" text-anchor="middle" fill="#333" stroke="#333">1</text>
<line x1="476.5" y1="249.3" x2="476.5" y2="251.7" stroke="#666" stroke-width="0.6"/>
<text x="476.5" y="260.6" text-anchor="middle" fill="#333" stroke="#333">2</text>
<line x1="499" y1="249.3" x2="499" y2="251.7" stroke="#666" stroke-width="0.6"/>
<text x="499" y="260.6" text-anchor="middle" fill="#333" stroke="#333">3</text>
<line x1="521.5" y1="249.3" x2="521.5" y2="251.7" stroke="#666" stroke-width="0.6"/>
<text x="521.5" y="260.6" text-anchor="middle" fill="#333" stroke="#333">4</text>
<line x1="544" y1="249.3" x2="544" y2="251.7" stroke="#666" stroke-width="0.6"/>
<text x="544" y="260.6" text-anchor="middle" fill="#333" stroke="#333">5</text>
<text x="499" y="271.9" text-anchor="middle" font-style="italic" stroke="#222">k</text>
<text transform="translate(428,203.8) rotate(-90)" text-anchor="middle" stroke="#222">Average Recall@k</text>
<polyline points="454,222 476.5,220 499,217.63 521.5,216.54 544,215.18" fill="none" stroke="#7cc5b9" stroke-width="1"/>
<rect x="452.05" y="220.05" width="3.9" height="3.9" fill="#62b2a6"/>
<rect x="474.55" y="218.05" width="3.9" height="3.9" fill="#62b2a6"/>
<rect x="497.05" y="215.68" width="3.9" height="3.9" fill="#62b2a6"/>
<rect x="519.55" y="214.59" width="3.9" height="3.9" fill="#62b2a6"/>
<rect x="542.05" y="213.23" width="3.9" height="3.9" fill="#62b2a6"/>
<polyline points="454,202.89 476.5,195.61 499,191.61 521.5,190.51 544,189.88" fill="none" stroke="#4270ab" stroke-width="1"/>
<circle cx="454" cy="202.89" r="1.95" fill="#4270ab"/>
<circle cx="476.5" cy="195.61" r="1.95" fill="#4270ab"/>
<circle cx="499" cy="191.61" r="1.95" fill="#4270ab"/>
<circle cx="521.5" cy="190.51" r="1.95" fill="#4270ab"/>
<circle cx="544" cy="189.88" r="1.95" fill="#4270ab"/>
<polyline points="454,205.07 476.5,200.16 499,196.79 521.5,195.61 544,192.79" fill="none" stroke="#f0902a" stroke-width="1"/>
<path d="M454,201.77L457,206.97L451,206.97Z" fill="#f0902a"/>
<path d="M476.5,196.86L479.5,202.06L473.5,202.06Z" fill="#f0902a"/>
<path d="M499,193.49L502,198.69L496,198.69Z" fill="#f0902a"/>
<path d="M521.5,192.31L524.5,197.51L518.5,197.51Z" fill="#f0902a"/>
<path d="M544,189.49L547,194.69L541,194.69Z" fill="#f0902a"/>
<polyline points="454,189.15 476.5,186.06 499,185.15 521.5,183.6 544,183.14" fill="none" stroke="#e46a76" stroke-width="1"/>
<path d="M454,185.85L454.82,188.02L457.14,188.13L455.33,189.58L455.94,191.82L454,190.55L452.06,191.82L452.67,189.58L450.86,188.13L453.18,188.02Z" fill="#e04652"/>
<path d="M476.5,182.75L477.32,184.92L479.64,185.04L477.83,186.49L478.44,188.72L476.5,187.46L474.56,188.72L475.17,186.49L473.36,185.04L475.68,184.92Z" fill="#e04652"/>
<path d="M499,181.84L499.82,184.01L502.14,184.13L500.33,185.58L500.94,187.81L499,186.55L497.06,187.81L497.67,185.58L495.86,184.13L498.18,184.01Z" fill="#e04652"/>
<path d="M521.5,180.3L522.32,182.47L524.64,182.58L522.83,184.03L523.44,186.27L521.5,185L519.56,186.27L520.17,184.03L518.36,182.58L520.68,182.47Z" fill="#e04652"/>
<path d="M544,179.84L544.82,182.01L547.14,182.12L545.33,183.58L545.94,185.81L544,184.54L542.06,185.81L542.67,183.58L540.86,182.12L543.18,182.01Z" fill="#e04652"/>
<text x="634" y="143.9" text-anchor="middle" stroke="#222">Lungs and breathing</text>
<text x="634" y="151.1" text-anchor="middle" stroke="#222">(<tspan font-style="italic">n</tspan> = 222)</text>
<line x1="585.6" y1="158.1" x2="585.6" y2="249.3" stroke="#8c8c8c" stroke-width="1"/>
<line x1="585.1" y1="249.3" x2="684.4" y2="249.3" stroke="#8c8c8c" stroke-width="1"/>
<line x1="583" y1="249.3" x2="585.6" y2="249.3" stroke="#666" stroke-width="0.6"/>
<text x="579.7" y="251.6" text-anchor="end" fill="#333" stroke="#333">0</text>
<line x1="583" y1="231.1" x2="585.6" y2="231.1" stroke="#666" stroke-width="0.6"/>
<text x="579.7" y="233.4" text-anchor="end" fill="#333" stroke="#333">0.2</text>
<line x1="583" y1="212.9" x2="585.6" y2="212.9" stroke="#666" stroke-width="0.6"/>
<text x="579.7" y="215.2" text-anchor="end" fill="#333" stroke="#333">0.4</text>
<line x1="583" y1="194.7" x2="585.6" y2="194.7" stroke="#666" stroke-width="0.6"/>
<text x="579.7" y="197" text-anchor="end" fill="#333" stroke="#333">0.6</text>
<line x1="583" y1="176.5" x2="585.6" y2="176.5" stroke="#666" stroke-width="0.6"/>
<text x="579.7" y="178.8" text-anchor="end" fill="#333" stroke="#333">0.8</text>
<line x1="583" y1="158.3" x2="585.6" y2="158.3" stroke="#666" stroke-width="0.6"/>
<text x="579.7" y="160.6" text-anchor="end" fill="#333" stroke="#333">1.0</text>
<line x1="590" y1="249.3" x2="590" y2="251.7" stroke="#666" stroke-width="0.6"/>
<text x="590" y="260.6" text-anchor="middle" fill="#333" stroke="#333">1</text>
<line x1="612.5" y1="249.3" x2="612.5" y2="251.7" stroke="#666" stroke-width="0.6"/>
<text x="612.5" y="260.6" text-anchor="middle" fill="#333" stroke="#333">2</text>
<line x1="635" y1="249.3" x2="635" y2="251.7" stroke="#666" stroke-width="0.6"/>
<text x="635" y="260.6" text-anchor="middle" fill="#333" stroke="#333">3</text>
<line x1="657.5" y1="249.3" x2="657.5" y2="251.7" stroke="#666" stroke-width="0.6"/>
<text x="657.5" y="260.6" text-anchor="middle" fill="#333" stroke="#333">4</text>
<line x1="680" y1="249.3" x2="680" y2="251.7" stroke="#666" stroke-width="0.6"/>
<text x="680" y="260.6" text-anchor="middle" fill="#333" stroke="#333">5</text>
<text x="635" y="271.9" text-anchor="middle" font-style="italic" stroke="#222">k</text>
<text transform="translate(564,203.8) rotate(-90)" text-anchor="middle" stroke="#222">Average Recall@k</text>
<polyline points="590,241.11 612.5,237.29 635,235.74 657.5,235.01 680,232.65" fill="none" stroke="#7cc5b9" stroke-width="1"/>
<rect x="588.05" y="239.16" width="3.9" height="3.9" fill="#62b2a6"/>
<rect x="610.55" y="235.34" width="3.9" height="3.9" fill="#62b2a6"/>
<rect x="633.05" y="233.79" width="3.9" height="3.9" fill="#62b2a6"/>
<rect x="655.55" y="233.06" width="3.9" height="3.9" fill="#62b2a6"/>
<rect x="678.05" y="230.7" width="3.9" height="3.9" fill="#62b2a6"/>
<polyline points="590,229.19 612.5,222.91 635,218.54 657.5,216.9 680,215.08" fill="none" stroke="#4270ab" stroke-width="1"/>
<circle cx="590" cy="229.19" r="1.95" fill="#4270ab"/>
<circle cx="612.5" cy="222.91" r="1.95" fill="#4270ab"/>
<circle cx="635" cy="218.54" r="1.95" fill="#4270ab"/>
<circle cx="657.5" cy="216.9" r="1.95" fill="#4270ab"/>
<circle cx="680" cy="215.08" r="1.95" fill="#4270ab"/>
<polyline points="590,222.46 612.5,219.63 635,217.09 657.5,216.09 680,213.54" fill="none" stroke="#f0902a" stroke-width="1"/>
<path d="M590,219.16L593,224.36L587,224.36Z" fill="#f0902a"/>
<path d="M612.5,216.33L615.5,221.53L609.5,221.53Z" fill="#f0902a"/>
<path d="M635,213.79L638,218.99L632,218.99Z" fill="#f0902a"/>
<path d="M657.5,212.78L660.5,217.99L654.5,217.99Z" fill="#f0902a"/>
<path d="M680,210.24L683,215.44L677,215.44Z" fill="#f0902a"/>
<polyline points="590,221.18 612.5,216.27 635,214.27 657.5,213.54 680,211.26" fill="none" stroke="#e46a76" stroke-width="1"/>
<path d="M590,217.88L590.82,220.05L593.14,220.16L591.33,221.61L591.94,223.85L590,222.58L588.06,223.85L588.67,221.61L586.86,220.16L589.18,220.05Z" fill="#e04652"/>
<path d="M612.5,212.97L613.32,215.13L615.64,215.25L613.83,216.7L614.44,218.94L612.5,217.67L610.56,218.94L611.17,216.7L609.36,215.25L611.68,215.13Z" fill="#e04652"/>
<path d="M635,210.97L635.82,213.13L638.14,213.25L636.33,214.7L636.94,216.93L635,215.67L633.06,216.93L633.67,214.7L631.86,213.25L634.18,213.13Z" fill="#e04652"/>
<path d="M657.5,210.24L658.32,212.4L660.64,212.52L658.83,213.97L659.44,216.21L657.5,214.94L655.56,216.21L656.17,213.97L654.36,212.52L656.68,212.4Z" fill="#e04652"/>
<path d="M680,207.96L680.82,210.13L683.14,210.24L681.33,211.69L681.94,213.93L680,212.66L678.06,213.93L678.67,211.69L676.86,210.24L679.18,210.13Z" fill="#e04652"/>
<text x="91.4" y="285.1" text-anchor="middle" stroke="#222">Ear, nose and throat</text>
<text x="91.4" y="292.4" text-anchor="middle" stroke="#222">(<tspan font-style="italic">n</tspan> = 169)</text>
<line x1="42" y1="298.1" x2="42" y2="389.3" stroke="#8c8c8c" stroke-width="1"/>
<line x1="41.5" y1="389.3" x2="140.8" y2="389.3" stroke="#8c8c8c" stroke-width="1"/>
<line x1="39.4" y1="389.3" x2="42" y2="389.3" stroke="#666" stroke-width="0.6"/>
<text x="36.1" y="391.6" text-anchor="end" fill="#333" stroke="#333">0</text>
<line x1="39.4" y1="371.1" x2="42" y2="371.1" stroke="#666" stroke-width="0.6"/>
<text x="36.1" y="373.4" text-anchor="end" fill="#333" stroke="#333">0.2</text>
<line x1="39.4" y1="352.9" x2="42" y2="352.9" stroke="#666" stroke-width="0.6"/>
<text x="36.1" y="355.2" text-anchor="end" fill="#333" stroke="#333">0.4</text>
<line x1="39.4" y1="334.7" x2="42" y2="334.7" stroke="#666" stroke-width="0.6"/>
<text x="36.1" y="337" text-anchor="end" fill="#333" stroke="#333">0.6</text>
<line x1="39.4" y1="316.5" x2="42" y2="316.5" stroke="#666" stroke-width="0.6"/>
<text x="36.1" y="318.8" text-anchor="end" fill="#333" stroke="#333">0.8</text>
<line x1="39.4" y1="298.3" x2="42" y2="298.3" stroke="#666" stroke-width="0.6"/>
<text x="36.1" y="300.6" text-anchor="end" fill="#333" stroke="#333">1.0</text>
<line x1="46.4" y1="389.3" x2="46.4" y2="391.7" stroke="#666" stroke-width="0.6"/>
<text x="46.4" y="399.9" text-anchor="middle" fill="#333" stroke="#333">1</text>
<line x1="68.9" y1="389.3" x2="68.9" y2="391.7" stroke="#666" stroke-width="0.6"/>
<text x="68.9" y="399.9" text-anchor="middle" fill="#333" stroke="#333">2</text>
<line x1="91.4" y1="389.3" x2="91.4" y2="391.7" stroke="#666" stroke-width="0.6"/>
<text x="91.4" y="399.9" text-anchor="middle" fill="#333" stroke="#333">3</text>
<line x1="113.9" y1="389.3" x2="113.9" y2="391.7" stroke="#666" stroke-width="0.6"/>
<text x="113.9" y="399.9" text-anchor="middle" fill="#333" stroke="#333">4</text>
<line x1="136.4" y1="389.3" x2="136.4" y2="391.7" stroke="#666" stroke-width="0.6"/>
<text x="136.4" y="399.9" text-anchor="middle" fill="#333" stroke="#333">5</text>
<text x="91.4" y="411.1" text-anchor="middle" font-style="italic" stroke="#222">k</text>
<text transform="translate(20.4,343.8) rotate(-90)" text-anchor="middle" stroke="#222">Average Recall@k</text>
<polyline points="46.4,386.93 68.9,386.3 91.4,385.11 113.9,384.93 136.4,384.66" fill="none" stroke="#7cc5b9" stroke-width="1"/>
<rect x="44.45" y="384.98" width="3.9" height="3.9" fill="#62b2a6"/>
<rect x="66.95" y="384.35" width="3.9" height="3.9" fill="#62b2a6"/>
<rect x="89.45" y="383.16" width="3.9" height="3.9" fill="#62b2a6"/>
<rect x="111.95" y="382.98" width="3.9" height="3.9" fill="#62b2a6"/>
<rect x="134.45" y="382.71" width="3.9" height="3.9" fill="#62b2a6"/>
<polyline points="46.4,356.09 68.9,353.54 91.4,349.72 113.9,347.53 136.4,343.89" fill="none" stroke="#4270ab" stroke-width="1"/>
<circle cx="46.4" cy="356.09" r="1.95" fill="#4270ab"/>
<circle cx="68.9" cy="353.54" r="1.95" fill="#4270ab"/>
<circle cx="91.4" cy="349.72" r="1.95" fill="#4270ab"/>
<circle cx="113.9" cy="347.53" r="1.95" fill="#4270ab"/>
<circle cx="136.4" cy="343.89" r="1.95" fill="#4270ab"/>
<polyline points="46.4,350.44 68.9,344.35 91.4,340.16 113.9,338.16 136.4,337.07" fill="none" stroke="#f0902a" stroke-width="1"/>
<path d="M46.4,347.14L49.4,352.34L43.4,352.34Z" fill="#f0902a"/>
<path d="M68.9,341.05L71.9,346.25L65.9,346.25Z" fill="#f0902a"/>
<path d="M91.4,336.86L94.4,342.06L88.4,342.06Z" fill="#f0902a"/>
<path d="M113.9,334.86L116.9,340.06L110.9,340.06Z" fill="#f0902a"/>
<path d="M136.4,333.77L139.4,338.97L133.4,338.97Z" fill="#f0902a"/>
<polyline points="46.4,348.44 68.9,343.89 91.4,341.98 113.9,340.52 136.4,338.98" fill="none" stroke="#e46a76" stroke-width="1"/>
<path d="M46.4,345.14L47.22,347.31L49.54,347.42L47.73,348.87L48.34,351.11L46.4,349.84L44.46,351.11L45.07,348.87L43.26,347.42L45.58,347.31Z" fill="#e04652"/>
<path d="M68.9,340.59L69.72,342.76L72.04,342.87L70.23,344.32L70.84,346.56L68.9,345.29L66.96,346.56L67.57,344.32L65.76,342.87L68.08,342.76Z" fill="#e04652"/>
<path d="M91.4,338.68L92.22,340.85L94.54,340.96L92.73,342.41L93.34,344.65L91.4,343.38L89.46,344.65L90.07,342.41L88.26,340.96L90.58,340.85Z" fill="#e04652"/>
<path d="M113.9,337.22L114.72,339.39L117.04,339.5L115.23,340.96L115.84,343.19L113.9,341.92L111.96,343.19L112.57,340.96L110.76,339.5L113.08,339.39Z" fill="#e04652"/>
<path d="M136.4,335.68L137.22,337.84L139.54,337.96L137.73,339.41L138.34,341.65L136.4,340.38L134.46,341.65L135.07,339.41L133.26,337.96L135.58,337.84Z" fill="#e04652"/>
<text x="225.8" y="285.1" text-anchor="middle" stroke="#222">Female reproductive system</text>
<text x="225.8" y="292.4" text-anchor="middle" stroke="#222">(<tspan font-style="italic">n</tspan> = 66)</text>
<line x1="176.4" y1="297.7" x2="176.4" y2="389.2" stroke="#8c8c8c" stroke-width="1"/>
<line x1="175.9" y1="389.2" x2="275.2" y2="389.2" stroke="#8c8c8c" stroke-width="1"/>
<line x1="173.8" y1="389.2" x2="176.4" y2="389.2" stroke="#666" stroke-width="0.6"/>
<text x="170.5" y="391.5" text-anchor="end" fill="#333" stroke="#333">0</text>
<line x1="173.8" y1="370.94" x2="176.4" y2="370.94" stroke="#666" stroke-width="0.6"/>
<text x="170.5" y="373.24" text-anchor="end" fill="#333" stroke="#333">0.2</text>
<line x1="173.8" y1="352.68" x2="176.4" y2="352.68" stroke="#666" stroke-width="0.6"/>
<text x="170.5" y="354.98" text-anchor="end" fill="#333" stroke="#333">0.4</text>
<line x1="173.8" y1="334.42" x2="176.4" y2="334.42" stroke="#666" stroke-width="0.6"/>
<text x="170.5" y="336.72" text-anchor="end" fill="#333" stroke="#333">0.6</text>
<line x1="173.8" y1="316.16" x2="176.4" y2="316.16" stroke="#666" stroke-width="0.6"/>
<text x="170.5" y="318.46" text-anchor="end" fill="#333" stroke="#333">0.8</text>
<line x1="173.8" y1="297.9" x2="176.4" y2="297.9" stroke="#666" stroke-width="0.6"/>
<text x="170.5" y="300.2" text-anchor="end" fill="#333" stroke="#333">1.0</text>
<line x1="180.8" y1="389.2" x2="180.8" y2="391.6" stroke="#666" stroke-width="0.6"/>
<text x="180.8" y="399.9" text-anchor="middle" fill="#333" stroke="#333">1</text>
<line x1="203.3" y1="389.2" x2="203.3" y2="391.6" stroke="#666" stroke-width="0.6"/>
<text x="203.3" y="399.9" text-anchor="middle" fill="#333" stroke="#333">2</text>
<line x1="225.8" y1="389.2" x2="225.8" y2="391.6" stroke="#666" stroke-width="0.6"/>
<text x="225.8" y="399.9" text-anchor="middle" fill="#333" stroke="#333">3</text>
<line x1="248.3" y1="389.2" x2="248.3" y2="391.6" stroke="#666" stroke-width="0.6"/>
<text x="248.3" y="399.9" text-anchor="middle" fill="#333" stroke="#333">4</text>
<line x1="270.8" y1="389.2" x2="270.8" y2="391.6" stroke="#666" stroke-width="0.6"/>
<text x="270.8" y="399.9" text-anchor="middle" fill="#333" stroke="#333">5</text>
<text x="225.8" y="411.1" text-anchor="middle" font-style="italic" stroke="#222">k</text>
<text transform="translate(154.8,343.55) rotate(-90)" text-anchor="middle" stroke="#222">Average Recall@k</text>
<polyline points="180.8,381.8 203.3,381.8 225.8,381.8 248.3,381.8 270.8,381.8" fill="none" stroke="#7cc5b9" stroke-width="1"/>
<rect x="178.85" y="379.85" width="3.9" height="3.9" fill="#62b2a6"/>
<rect x="201.35" y="379.85" width="3.9" height="3.9" fill="#62b2a6"/>
<rect x="223.85" y="379.85" width="3.9" height="3.9" fill="#62b2a6"/>
<rect x="246.35" y="379.85" width="3.9" height="3.9" fill="#62b2a6"/>
<rect x="268.85" y="379.85" width="3.9" height="3.9" fill="#62b2a6"/>
<polyline points="180.8,360.99 203.3,357.15 225.8,351.04 248.3,347.11 270.8,344.55" fill="none" stroke="#4270ab" stroke-width="1"/>
<circle cx="180.8" cy="360.99" r="1.95" fill="#4270ab"/>
<circle cx="203.3" cy="357.15" r="1.95" fill="#4270ab"/>
<circle cx="225.8" cy="351.04" r="1.95" fill="#4270ab"/>
<circle cx="248.3" cy="347.11" r="1.95" fill="#4270ab"/>
<circle cx="270.8" cy="344.55" r="1.95" fill="#4270ab"/>
<polyline points="180.8,365.19 203.3,362.27 225.8,352.86 248.3,351.31 270.8,349.94" fill="none" stroke="#f0902a" stroke-width="1"/>
<path d="M180.8,361.89L183.8,367.09L177.8,367.09Z" fill="#f0902a"/>
<path d="M203.3,358.97L206.3,364.17L200.3,364.17Z" fill="#f0902a"/>
<path d="M225.8,349.56L228.8,354.76L222.8,354.76Z" fill="#f0902a"/>
<path d="M248.3,348.01L251.3,353.21L245.3,353.21Z" fill="#f0902a"/>
<path d="M270.8,346.64L273.8,351.84L267.8,351.84Z" fill="#f0902a"/>
<polyline points="180.8,356.7 203.3,352.86 225.8,349.76 248.3,348.39 270.8,346.84" fill="none" stroke="#e46a76" stroke-width="1"/>
<path d="M180.8,353.4L181.62,355.56L183.94,355.68L182.13,357.13L182.74,359.37L180.8,358.1L178.86,359.37L179.47,357.13L177.66,355.68L179.98,355.56Z" fill="#e04652"/>
<path d="M203.3,349.56L204.12,351.73L206.44,351.84L204.63,353.3L205.24,355.53L203.3,354.26L201.36,355.53L201.97,353.3L200.16,351.84L202.48,351.73Z" fill="#e04652"/>
<path d="M225.8,346.46L226.62,348.63L228.94,348.74L227.13,350.19L227.74,352.43L225.8,351.16L223.86,352.43L224.47,350.19L222.66,348.74L224.98,348.63Z" fill="#e04652"/>
<path d="M248.3,345.09L249.12,347.26L251.44,347.37L249.63,348.82L250.24,351.06L248.3,349.79L246.36,351.06L246.97,348.82L245.16,347.37L247.48,347.26Z" fill="#e04652"/>
<path d="M270.8,343.54L271.62,345.7L273.94,345.82L272.13,347.27L272.74,349.51L270.8,348.24L268.86,349.51L269.47,347.27L267.66,345.82L269.98,345.7Z" fill="#e04652"/>
<text x="361.8" y="285.1" text-anchor="middle" stroke="#222">Mouth and teeth</text>
<text x="361.8" y="292.4" text-anchor="middle" stroke="#222">(<tspan font-style="italic">n</tspan> = 61)</text>
<line x1="312.4" y1="298.1" x2="312.4" y2="389.3" stroke="#8c8c8c" stroke-width="1"/>
<line x1="311.9" y1="389.3" x2="411.2" y2="389.3" stroke="#8c8c8c" stroke-width="1"/>
<line x1="309.8" y1="389.3" x2="312.4" y2="389.3" stroke="#666" stroke-width="0.6"/>
<text x="306.5" y="391.6" text-anchor="end" fill="#333" stroke="#333">0</text>
<line x1="309.8" y1="371.1" x2="312.4" y2="371.1" stroke="#666" stroke-width="0.6"/>
<text x="306.5" y="373.4" text-anchor="end" fill="#333" stroke="#333">0.2</text>
<line x1="309.8" y1="352.9" x2="312.4" y2="352.9" stroke="#666" stroke-width="0.6"/>
<text x="306.5" y="355.2" text-anchor="end" fill="#333" stroke="#333">0.4</text>
<line x1="309.8" y1="334.7" x2="312.4" y2="334.7" stroke="#666" stroke-width="0.6"/>
<text x="306.5" y="337" text-anchor="end" fill="#333" stroke="#333">0.6</text>
<line x1="309.8" y1="316.5" x2="312.4" y2="316.5" stroke="#666" stroke-width="0.6"/>
<text x="306.5" y="318.8" text-anchor="end" fill="#333" stroke="#333">0.8</text>
<line x1="309.8" y1="298.3" x2="312.4" y2="298.3" stroke="#666" stroke-width="0.6"/>
<text x="306.5" y="300.6" text-anchor="end" fill="#333" stroke="#333">1.0</text>
<line x1="316.8" y1="389.3" x2="316.8" y2="391.7" stroke="#666" stroke-width="0.6"/>
<text x="316.8" y="399.9" text-anchor="middle" fill="#333" stroke="#333">1</text>
<line x1="339.3" y1="389.3" x2="339.3" y2="391.7" stroke="#666" stroke-width="0.6"/>
<text x="339.3" y="399.9" text-anchor="middle" fill="#333" stroke="#333">2</text>
<line x1="361.8" y1="389.3" x2="361.8" y2="391.7" stroke="#666" stroke-width="0.6"/>
<text x="361.8" y="399.9" text-anchor="middle" fill="#333" stroke="#333">3</text>
<line x1="384.3" y1="389.3" x2="384.3" y2="391.7" stroke="#666" stroke-width="0.6"/>
<text x="384.3" y="399.9" text-anchor="middle" fill="#333" stroke="#333">4</text>
<line x1="406.8" y1="389.3" x2="406.8" y2="391.7" stroke="#666" stroke-width="0.6"/>
<text x="406.8" y="399.9" text-anchor="middle" fill="#333" stroke="#333">5</text>
<text x="361.8" y="411.1" text-anchor="middle" font-style="italic" stroke="#222">k</text>
<text transform="translate(290.8,343.8) rotate(-90)" text-anchor="middle" stroke="#222">Average Recall@k</text>
<polyline points="316.8,379.93 339.3,379.93 361.8,379.93 384.3,379.93 406.8,378.84" fill="none" stroke="#7cc5b9" stroke-width="1"/>
<rect x="314.85" y="377.98" width="3.9" height="3.9" fill="#62b2a6"/>
<rect x="337.35" y="377.98" width="3.9" height="3.9" fill="#62b2a6"/>
<rect x="359.85" y="377.98" width="3.9" height="3.9" fill="#62b2a6"/>
<rect x="382.35" y="377.98" width="3.9" height="3.9" fill="#62b2a6"/>
<rect x="404.85" y="376.89" width="3.9" height="3.9" fill="#62b2a6"/>
<polyline points="316.8,360.73 339.3,354.63 361.8,347.35 384.3,344.35 406.8,341.25" fill="none" stroke="#4270ab" stroke-width="1"/>
<circle cx="316.8" cy="360.73" r="1.95" fill="#4270ab"/>
<circle cx="339.3" cy="354.63" r="1.95" fill="#4270ab"/>
<circle cx="361.8" cy="347.35" r="1.95" fill="#4270ab"/>
<circle cx="384.3" cy="344.35" r="1.95" fill="#4270ab"/>
<circle cx="406.8" cy="341.25" r="1.95" fill="#4270ab"/>
<polyline points="316.8,357.36 339.3,346.62 361.8,343.98 384.3,343.98 406.8,342.34" fill="none" stroke="#f0902a" stroke-width="1"/>
<path d="M316.8,354.06L319.8,359.26L313.8,359.26Z" fill="#f0902a"/>
<path d="M339.3,343.32L342.3,348.52L336.3,348.52Z" fill="#f0902a"/>
<path d="M361.8,340.68L364.8,345.88L358.8,345.88Z" fill="#f0902a"/>
<path d="M384.3,340.68L387.3,345.88L381.3,345.88Z" fill="#f0902a"/>
<path d="M406.8,339.04L409.8,344.24L403.8,344.24Z" fill="#f0902a"/>
<polyline points="316.8,347.08 339.3,338.16 361.8,332.33 384.3,330.79 406.8,330.79" fill="none" stroke="#e46a76" stroke-width="1"/>
<path d="M316.8,343.78L317.62,345.94L319.94,346.06L318.13,347.51L318.74,349.75L316.8,348.48L314.86,349.75L315.47,347.51L313.66,346.06L315.98,345.94Z" fill="#e04652"/>
<path d="M339.3,334.86L340.12,337.03L342.44,337.14L340.63,338.59L341.24,340.83L339.3,339.56L337.36,340.83L337.97,338.59L336.16,337.14L338.48,337.03Z" fill="#e04652"/>
<path d="M361.8,329.03L362.62,331.2L364.94,331.31L363.13,332.77L363.74,335L361.8,333.73L359.86,335L360.47,332.77L358.66,331.31L360.98,331.2Z" fill="#e04652"/>
<path d="M384.3,327.49L385.12,329.65L387.44,329.77L385.63,331.22L386.24,333.46L384.3,332.19L382.36,333.46L382.97,331.22L381.16,329.77L383.48,329.65Z" fill="#e04652"/>
<path d="M406.8,327.49L407.62,329.65L409.94,329.77L408.13,331.22L408.74,333.46L406.8,332.19L404.86,333.46L405.47,331.22L403.66,329.77L405.98,329.65Z" fill="#e04652"/>
<text x="499" y="285.1" text-anchor="middle" stroke="#222">Male reproductive system</text>
<text x="499" y="292.4" text-anchor="middle" stroke="#222">(<tspan font-style="italic">n</tspan> = 41)</text>
<line x1="449.6" y1="296.9" x2="449.6" y2="388.9" stroke="#8c8c8c" stroke-width="1"/>
<line x1="449.1" y1="388.9" x2="548.4" y2="388.9" stroke="#8c8c8c" stroke-width="1"/>
<line x1="447" y1="388.9" x2="449.6" y2="388.9" stroke="#666" stroke-width="0.6"/>
<text x="443.7" y="391.2" text-anchor="end" fill="#333" stroke="#333">0</text>
<line x1="447" y1="370.54" x2="449.6" y2="370.54" stroke="#666" stroke-width="0.6"/>
<text x="443.7" y="372.84" text-anchor="end" fill="#333" stroke="#333">0.2</text>
<line x1="447" y1="352.18" x2="449.6" y2="352.18" stroke="#666" stroke-width="0.6"/>
<text x="443.7" y="354.48" text-anchor="end" fill="#333" stroke="#333">0.4</text>
<line x1="447" y1="333.82" x2="449.6" y2="333.82" stroke="#666" stroke-width="0.6"/>
<text x="443.7" y="336.12" text-anchor="end" fill="#333" stroke="#333">0.6</text>
<line x1="447" y1="315.46" x2="449.6" y2="315.46" stroke="#666" stroke-width="0.6"/>
<text x="443.7" y="317.76" text-anchor="end" fill="#333" stroke="#333">0.8</text>
<line x1="447" y1="297.1" x2="449.6" y2="297.1" stroke="#666" stroke-width="0.6"/>
<text x="443.7" y="299.4" text-anchor="end" fill="#333" stroke="#333">1.0</text>
<line x1="454" y1="388.9" x2="454" y2="391.3" stroke="#666" stroke-width="0.6"/>
<text x="454" y="399.9" text-anchor="middle" fill="#333" stroke="#333">1</text>
<line x1="476.5" y1="388.9" x2="476.5" y2="391.3" stroke="#666" stroke-width="0.6"/>
<text x="476.5" y="399.9" text-anchor="middle" fill="#333" stroke="#333">2</text>
<line x1="499" y1="388.9" x2="499" y2="391.3" stroke="#666" stroke-width="0.6"/>
<text x="499" y="399.9" text-anchor="middle" fill="#333" stroke="#333">3</text>
<line x1="521.5" y1="388.9" x2="521.5" y2="391.3" stroke="#666" stroke-width="0.6"/>
<text x="521.5" y="399.9" text-anchor="middle" fill="#333" stroke="#333">4</text>
<line x1="544" y1="388.9" x2="544" y2="391.3" stroke="#666" stroke-width="0.6"/>
<text x="544" y="399.9" text-anchor="middle" fill="#333" stroke="#333">5</text>
<text x="499" y="411.1" text-anchor="middle" font-style="italic" stroke="#222">k</text>
<text transform="translate(428,343) rotate(-90)" text-anchor="middle" stroke="#222">Average Recall@k</text>
<polyline points="454,384.03 476.5,381.74 499,381.74 521.5,381.74 544,381.74" fill="none" stroke="#7cc5b9" stroke-width="1"/>
<rect x="452.05" y="382.08" width="3.9" height="3.9" fill="#62b2a6"/>
<rect x="474.55" y="379.79" width="3.9" height="3.9" fill="#62b2a6"/>
<rect x="497.05" y="379.79" width="3.9" height="3.9" fill="#62b2a6"/>
<rect x="519.55" y="379.79" width="3.9" height="3.9" fill="#62b2a6"/>
<rect x="542.05" y="379.79" width="3.9" height="3.9" fill="#62b2a6"/>
<polyline points="454,363.65 476.5,356.68 499,349.7 521.5,345.85 544,345.57" fill="none" stroke="#4270ab" stroke-width="1"/>
<circle cx="454" cy="363.65" r="1.95" fill="#4270ab"/>
<circle cx="476.5" cy="356.68" r="1.95" fill="#4270ab"/>
<circle cx="499" cy="349.7" r="1.95" fill="#4270ab"/>
<circle cx="521.5" cy="345.85" r="1.95" fill="#4270ab"/>
<circle cx="544" cy="345.57" r="1.95" fill="#4270ab"/>
<polyline points="454,365.49 476.5,354.02 499,347.87 521.5,347.87 544,345.39" fill="none" stroke="#f0902a" stroke-width="1"/>
<path d="M454,362.19L457,367.39L451,367.39Z" fill="#f0902a"/>
<path d="M476.5,350.72L479.5,355.92L473.5,355.92Z" fill="#f0902a"/>
<path d="M499,344.57L502,349.77L496,349.77Z" fill="#f0902a"/>
<path d="M521.5,344.57L524.5,349.77L518.5,349.77Z" fill="#f0902a"/>
<path d="M544,342.09L547,347.29L541,347.29Z" fill="#f0902a"/>
<polyline points="454,354.38 476.5,347.68 499,343.09 521.5,343.09 544,340.89" fill="none" stroke="#e46a76" stroke-width="1"/>
<path d="M454,351.08L454.82,353.25L457.14,353.36L455.33,354.82L455.94,357.05L454,355.78L452.06,357.05L452.67,354.82L450.86,353.36L453.18,353.25Z" fill="#e04652"/>
<path d="M476.5,344.38L477.32,346.55L479.64,346.66L477.83,348.11L478.44,350.35L476.5,349.08L474.56,350.35L475.17,348.11L473.36,346.66L475.68,346.55Z" fill="#e04652"/>
<path d="M499,339.79L499.82,341.96L502.14,342.07L500.33,343.52L500.94,345.76L499,344.49L497.06,345.76L497.67,343.52L495.86,342.07L498.18,341.96Z" fill="#e04652"/>
<path d="M521.5,339.79L522.32,341.96L524.64,342.07L522.83,343.52L523.44,345.76L521.5,344.49L519.56,345.76L520.17,343.52L518.36,342.07L520.68,341.96Z" fill="#e04652"/>
<path d="M544,337.59L544.82,339.76L547.14,339.87L545.33,341.32L545.94,343.56L544,342.29L542.06,343.56L542.67,341.32L540.86,339.87L543.18,339.76Z" fill="#e04652"/>
<text x="7.2" y="6.9" font-size="10.8" font-weight="bold" fill="#000" style="stroke-width:0.5px" stroke="#000">a</text>
<line x1="573" y1="317.3" x2="588" y2="317.3" stroke="#4270ab" stroke-width="1.1"/>
<circle cx="580.5" cy="317.3" r="1.95" fill="#4270ab"/>
<text x="591.5" y="319.6" stroke="#222">DeepSeek-V3</text>
<line x1="573" y1="325.6" x2="588" y2="325.6" stroke="#f0902a" stroke-width="1.1"/>
<path d="M580.5,322.3L583.5,327.5L577.5,327.5Z" fill="#f0902a"/>
<text x="591.5" y="327.9" stroke="#222">DeepSeek-R1</text>
<line x1="573" y1="333.8" x2="588" y2="333.8" stroke="#7cc5b9" stroke-width="1.1"/>
<rect x="578.55" y="331.85" width="3.9" height="3.9" fill="#62b2a6"/>
<text x="591.5" y="336.1" stroke="#222">BaichuanM1</text>
<line x1="573" y1="342" x2="588" y2="342" stroke="#e46a76" stroke-width="1.1"/>
<path d="M580.5,338.7L581.32,340.87L583.64,340.98L581.83,342.43L582.44,344.67L580.5,343.4L578.56,344.67L579.17,342.43L577.36,340.98L579.68,340.87Z" fill="#e04652"/>
<text x="591.5" y="344.3" stroke="#222">DeepRare (DeepSeek-V3)</text>
<text x="7.3" y="420.5" font-size="10.8" font-weight="bold" fill="#000" style="stroke-width:0.5px" stroke="#000">b</text>
<line x1="54.4" y1="418.7" x2="54.4" y2="555.3" stroke="#8c8c8c" stroke-width="1"/>
<line x1="53.9" y1="555.3" x2="649" y2="555.3" stroke="#8c8c8c" stroke-width="1"/>
<line x1="51.4" y1="549.3" x2="54.4" y2="549.3" stroke="#666" stroke-width="0.6"/>
<text x="49.6" y="551.6" text-anchor="end" fill="#333" stroke="#333">0</text>
<line x1="51.4" y1="524.3" x2="54.4" y2="524.3" stroke="#666" stroke-width="0.6"/>
<text x="49.6" y="526.6" text-anchor="end" fill="#333" stroke="#333">0.2</text>
<line x1="51.4" y1="499.3" x2="54.4" y2="499.3" stroke="#666" stroke-width="0.6"/>
<text x="49.6" y="501.6" text-anchor="end" fill="#333" stroke="#333">0.4</text>
<line x1="51.4" y1="474.3" x2="54.4" y2="474.3" stroke="#666" stroke-width="0.6"/>
<text x="49.6" y="476.6" text-anchor="end" fill="#333" stroke="#333">0.6</text>
<line x1="51.4" y1="449.3" x2="54.4" y2="449.3" stroke="#666" stroke-width="0.6"/>
<text x="49.6" y="451.6" text-anchor="end" fill="#333" stroke="#333">0.8</text>
<line x1="51.4" y1="424.3" x2="54.4" y2="424.3" stroke="#666" stroke-width="0.6"/>
<text x="49.6" y="426.6" text-anchor="end" fill="#333" stroke="#333">1.0</text>
<text transform="translate(35,487.2) rotate(-90)" text-anchor="middle" font-size="6" stroke="#222">Recall@1</text>
<line x1="56.9" y1="555.3" x2="56.9" y2="557.8" stroke="#555" stroke-width="0.6"/>
<text transform="translate(59.8,562.2) rotate(-45)" text-anchor="end" fill="#333" stroke="#333">MONDO:0005661 (<tspan font-style="italic">n</tspan> = 456)</text>
<line x1="64.73" y1="555.3" x2="64.73" y2="557.8" stroke="#555" stroke-width="0.6"/>
<circle cx="65.43" cy="561.8" r="0.5" fill="#555"/>
<circle cx="63.63" cy="563.6" r="0.5" fill="#555"/>
<circle cx="61.83" cy="565.4" r="0.5" fill="#555"/>
<line x1="72.56" y1="555.3" x2="72.56" y2="557.8" stroke="#555" stroke-width="0.6"/>
<text transform="translate(75.46,562.2) rotate(-45)" text-anchor="end" fill="#333" stroke="#333">ORPHA:544 (<tspan font-style="italic">n</tspan> = 102)</text>
<line x1="80.39" y1="555.3" x2="80.39" y2="557.8" stroke="#555" stroke-width="0.6"/>
<circle cx="81.09" cy="561.8" r="0.5" fill="#555"/>
<circle cx="79.29" cy="563.6" r="0.5" fill="#555"/>
<circle cx="77.49" cy="565.4" r="0.5" fill="#555"/>
<line x1="88.22" y1="555.3" x2="88.22" y2="557.8" stroke="#555" stroke-width="0.6"/>
<text transform="translate(91.12,562.2) rotate(-45)" text-anchor="end" fill="#333" stroke="#333">ORPHA:79201 (<tspan font-style="italic">n</tspan> = 77)</text>
<line x1="96.05" y1="555.3" x2="96.05" y2="557.8" stroke="#555" stroke-width="0.6"/>
<circle cx="96.75" cy="561.8" r="0.5" fill="#555"/>
<circle cx="94.95" cy="563.6" r="0.5" fill="#555"/>
<circle cx="93.15" cy="565.4" r="0.5" fill="#555"/>
<line x1="103.88" y1="555.3" x2="103.88" y2="557.8" stroke="#555" stroke-width="0.6"/>
<text transform="translate(106.78,562.2) rotate(-45)" text-anchor="end" fill="#333" stroke="#333">MONDO:0009612 (<tspan font-style="italic">n</tspan> = 65)</text>
<line x1="111.71" y1="555.3" x2="111.71" y2="557.8" stroke="#555" stroke-width="0.6"/>
<circle cx="112.41" cy="561.8" r="0.5" fill="#555"/>
<circle cx="110.61" cy="563.6" r="0.5" fill="#555"/>
<circle cx="108.81" cy="565.4" r="0.5" fill="#555"/>
<line x1="119.54" y1="555.3" x2="119.54" y2="557.8" stroke="#555" stroke-width="0.6"/>
<text transform="translate(122.44,562.2) rotate(-45)" text-anchor="end" fill="#333" stroke="#333">ORPHA:79651 (<tspan font-style="italic">n</tspan> = 54)</text>
<line x1="127.37" y1="555.3" x2="127.37" y2="557.8" stroke="#555" stroke-width="0.6"/>
<circle cx="128.07" cy="561.8" r="0.5" fill="#555"/>
<circle cx="126.27" cy="563.6" r="0.5" fill="#555"/>
<circle cx="124.47" cy="565.4" r="0.5" fill="#555"/>
<line x1="135.2" y1="555.3" x2="135.2" y2="557.8" stroke="#555" stroke-width="0.6"/>
<text transform="translate(138.1,562.2) rotate(-45)" text-anchor="end" fill="#333" stroke="#333">MONDO:0010703 (<tspan font-style="italic">n</tspan> = 48)</text>
<line x1="143.03" y1="555.3" x2="143.03" y2="557.8" stroke="#555" stroke-width="0.6"/>
<circle cx="143.73" cy="561.8" r="0.5" fill="#555"/>
<circle cx="141.93" cy="563.6" r="0.5" fill="#555"/>
<circle cx="140.13" cy="565.4" r="0.5" fill="#555"/>
<line x1="150.86" y1="555.3" x2="150.86" y2="557.8" stroke="#555" stroke-width="0.6"/>
<text transform="translate(153.76,562.2) rotate(-45)" text-anchor="end" fill="#333" stroke="#333">MONDO:0008563 (<tspan font-style="italic">n</tspan> = 42)</text>
<line x1="158.69" y1="555.3" x2="158.69" y2="557.8" stroke="#555" stroke-width="0.6"/>
<circle cx="159.39" cy="561.8" r="0.5" fill="#555"/>
<circle cx="157.59" cy="563.6" r="0.5" fill="#555"/>
<circle cx="155.79" cy="565.4" r="0.5" fill="#555"/>
<line x1="166.52" y1="555.3" x2="166.52" y2="557.8" stroke="#555" stroke-width="0.6"/>
<text transform="translate(169.42,562.2) rotate(-45)" text-anchor="end" fill="#333" stroke="#333">ORPHA:182090 (<tspan font-style="italic">n</tspan> = 38)</text>
<line x1="174.35" y1="555.3" x2="174.35" y2="557.8" stroke="#555" stroke-width="0.6"/>
<circle cx="175.05" cy="561.8" r="0.5" fill="#555"/>
<circle cx="173.25" cy="563.6" r="0.5" fill="#555"/>
<circle cx="171.45" cy="565.4" r="0.5" fill="#555"/>
<line x1="182.18" y1="555.3" x2="182.18" y2="557.8" stroke="#555" stroke-width="0.6"/>
<text transform="translate(185.08,562.2) rotate(-45)" text-anchor="end" fill="#333" stroke="#333">MONDO:0002413 (<tspan font-style="italic">n</tspan> = 34)</text>
<line x1="190.01" y1="555.3" x2="190.01" y2="557.8" stroke="#555" stroke-width="0.6"/>
<circle cx="190.71" cy="561.8" r="0.5" fill="#555"/>
<circle cx="188.91" cy="563.6" r="0.5" fill="#555"/>
<circle cx="187.11" cy="565.4" r="0.5" fill="#555"/>
<line x1="197.84" y1="555.3" x2="197.84" y2="557.8" stroke="#555" stroke-width="0.6"/>
<text transform="translate(200.74,562.2) rotate(-45)" text-anchor="end" fill="#333" stroke="#333">MONDO:0009258 (<tspan font-style="italic">n</tspan> = 33)</text>
<line x1="205.67" y1="555.3" x2="205.67" y2="557.8" stroke="#555" stroke-width="0.6"/>
<circle cx="206.37" cy="561.8" r="0.5" fill="#555"/>
<circle cx="204.57" cy="563.6" r="0.5" fill="#555"/>
<circle cx="202.77" cy="565.4" r="0.5" fill="#555"/>
<line x1="213.5" y1="555.3" x2="213.5" y2="557.8" stroke="#555" stroke-width="0.6"/>
<text transform="translate(216.4,562.2) rotate(-45)" text-anchor="end" fill="#333" stroke="#333">MONDO:0008968 (<tspan font-style="italic">n</tspan> = 32)</text>
<line x1="221.33" y1="555.3" x2="221.33" y2="557.8" stroke="#555" stroke-width="0.6"/>
<circle cx="222.03" cy="561.8" r="0.5" fill="#555"/>
<circle cx="220.23" cy="563.6" r="0.5" fill="#555"/>
<circle cx="218.43" cy="565.4" r="0.5" fill="#555"/>
<line x1="229.16" y1="555.3" x2="229.16" y2="557.8" stroke="#555" stroke-width="0.6"/>
<text transform="translate(232.06,562.2) rotate(-45)" text-anchor="end" fill="#333" stroke="#333">ORPHA:88673 (<tspan font-style="italic">n</tspan> = 31)</text>
<line x1="236.99" y1="555.3" x2="236.99" y2="557.8" stroke="#555" stroke-width="0.6"/>
<circle cx="237.69" cy="561.8" r="0.5" fill="#555"/>
<circle cx="235.89" cy="563.6" r="0.5" fill="#555"/>
<circle cx="234.09" cy="565.4" r="0.5" fill="#555"/>
<line x1="244.82" y1="555.3" x2="244.82" y2="557.8" stroke="#555" stroke-width="0.6"/>
<text transform="translate(247.72,562.2) rotate(-45)" text-anchor="end" fill="#333" stroke="#333">MONDO:0009520 (<tspan font-style="italic">n</tspan> = 29)</text>
<line x1="252.65" y1="555.3" x2="252.65" y2="557.8" stroke="#555" stroke-width="0.6"/>
<circle cx="253.35" cy="561.8" r="0.5" fill="#555"/>
<circle cx="251.55" cy="563.6" r="0.5" fill="#555"/>
<circle cx="249.75" cy="565.4" r="0.5" fill="#555"/>
<line x1="260.48" y1="555.3" x2="260.48" y2="557.8" stroke="#555" stroke-width="0.6"/>
<text transform="translate(263.38,562.2) rotate(-45)" text-anchor="end" fill="#333" stroke="#333">MONDO:0005388 (<tspan font-style="italic">n</tspan> = 28)</text>
<line x1="268.31" y1="555.3" x2="268.31" y2="557.8" stroke="#555" stroke-width="0.6"/>
<circle cx="269.01" cy="561.8" r="0.5" fill="#555"/>
<circle cx="267.21" cy="563.6" r="0.5" fill="#555"/>
<circle cx="265.41" cy="565.4" r="0.5" fill="#555"/>
<line x1="276.14" y1="555.3" x2="276.14" y2="557.8" stroke="#555" stroke-width="0.6"/>
<text transform="translate(279.04,562.2) rotate(-45)" text-anchor="end" fill="#333" stroke="#333">ORPHA:67038 (<tspan font-style="italic">n</tspan> = 27)</text>
<line x1="283.97" y1="555.3" x2="283.97" y2="557.8" stroke="#555" stroke-width="0.6"/>
<circle cx="284.67" cy="561.8" r="0.5" fill="#555"/>
<circle cx="282.87" cy="563.6" r="0.5" fill="#555"/>
<circle cx="281.07" cy="565.4" r="0.5" fill="#555"/>
<line x1="291.8" y1="555.3" x2="291.8" y2="557.8" stroke="#555" stroke-width="0.6"/>
<text transform="translate(294.7,562.2) rotate(-45)" text-anchor="end" fill="#333" stroke="#333">ORPHA:79213 (<tspan font-style="italic">n</tspan> = 27)</text>
<line x1="299.63" y1="555.3" x2="299.63" y2="557.8" stroke="#555" stroke-width="0.6"/>
<circle cx="300.33" cy="561.8" r="0.5" fill="#555"/>
<circle cx="298.53" cy="563.6" r="0.5" fill="#555"/>
<circle cx="296.73" cy="565.4" r="0.5" fill="#555"/>
<line x1="307.46" y1="555.3" x2="307.46" y2="557.8" stroke="#555" stroke-width="0.6"/>
<text transform="translate(310.36,562.2) rotate(-45)" text-anchor="end" fill="#333" stroke="#333">MONDO:0008399 (<tspan font-style="italic">n</tspan> = 25)</text>
<line x1="315.29" y1="555.3" x2="315.29" y2="557.8" stroke="#555" stroke-width="0.6"/>
<circle cx="315.99" cy="561.8" r="0.5" fill="#555"/>
<circle cx="314.19" cy="563.6" r="0.5" fill="#555"/>
<circle cx="312.39" cy="565.4" r="0.5" fill="#555"/>
<line x1="323.12" y1="555.3" x2="323.12" y2="557.8" stroke="#555" stroke-width="0.6"/>
<text transform="translate(326.02,562.2) rotate(-45)" text-anchor="end" fill="#333" stroke="#333">MONDO:0018876 (<tspan font-style="italic">n</tspan> = 24)</text>
<line x1="330.95" y1="555.3" x2="330.95" y2="557.8" stroke="#555" stroke-width="0.6"/>
<circle cx="331.65" cy="561.8" r="0.5" fill="#555"/>
<circle cx="329.85" cy="563.6" r="0.5" fill="#555"/>
<circle cx="328.05" cy="565.4" r="0.5" fill="#555"/>
<line x1="338.78" y1="555.3" x2="338.78" y2="557.8" stroke="#555" stroke-width="0.6"/>
<text transform="translate(341.68,562.2) rotate(-45)" text-anchor="end" fill="#333" stroke="#333">MONDO:0014827 (<tspan font-style="italic">n</tspan> = 24)</text>
<line x1="346.61" y1="555.3" x2="346.61" y2="557.8" stroke="#555" stroke-width="0.6"/>
<circle cx="347.31" cy="561.8" r="0.5" fill="#555"/>
<circle cx="345.51" cy="563.6" r="0.5" fill="#555"/>
<circle cx="343.71" cy="565.4" r="0.5" fill="#555"/>
<line x1="354.44" y1="555.3" x2="354.44" y2="557.8" stroke="#555" stroke-width="0.6"/>
<text transform="translate(357.34,562.2) rotate(-45)" text-anchor="end" fill="#333" stroke="#333">MONDO:0009370 (<tspan font-style="italic">n</tspan> = 23)</text>
<line x1="362.27" y1="555.3" x2="362.27" y2="557.8" stroke="#555" stroke-width="0.6"/>
<circle cx="362.97" cy="561.8" r="0.5" fill="#555"/>
<circle cx="361.17" cy="563.6" r="0.5" fill="#555"/>
<circle cx="359.37" cy="565.4" r="0.5" fill="#555"/>
<line x1="370.1" y1="555.3" x2="370.1" y2="557.8" stroke="#555" stroke-width="0.6"/>
<text transform="translate(373,562.2) rotate(-45)" text-anchor="end" fill="#333" stroke="#333">MONDO:0010079 (<tspan font-style="italic">n</tspan> = 23)</text>
<line x1="377.93" y1="555.3" x2="377.93" y2="557.8" stroke="#555" stroke-width="0.6"/>
<circle cx="378.63" cy="561.8" r="0.5" fill="#555"/>
<circle cx="376.83" cy="563.6" r="0.5" fill="#555"/>
<circle cx="375.03" cy="565.4" r="0.5" fill="#555"/>
<line x1="385.76" y1="555.3" x2="385.76" y2="557.8" stroke="#555" stroke-width="0.6"/>
<text transform="translate(388.66,562.2) rotate(-45)" text-anchor="end" fill="#333" stroke="#333">CCRD:65 (<tspan font-style="italic">n</tspan> = 22)</text>
<line x1="393.59" y1="555.3" x2="393.59" y2="557.8" stroke="#555" stroke-width="0.6"/>
<circle cx="394.29" cy="561.8" r="0.5" fill="#555"/>
<circle cx="392.49" cy="563.6" r="0.5" fill="#555"/>
<circle cx="390.69" cy="565.4" r="0.5" fill="#555"/>
<line x1="401.42" y1="555.3" x2="401.42" y2="557.8" stroke="#555" stroke-width="0.6"/>
<text transform="translate(404.32,562.2) rotate(-45)" text-anchor="end" fill="#333" stroke="#333">CCRD:18 (<tspan font-style="italic">n</tspan> = 20)</text>
<line x1="409.25" y1="555.3" x2="409.25" y2="557.8" stroke="#555" stroke-width="0.6"/>
<circle cx="409.95" cy="561.8" r="0.5" fill="#555"/>
<circle cx="408.15" cy="563.6" r="0.5" fill="#555"/>
<circle cx="406.35" cy="565.4" r="0.5" fill="#555"/>
<line x1="417.08" y1="555.3" x2="417.08" y2="557.8" stroke="#555" stroke-width="0.6"/>
<text transform="translate(419.98,562.2) rotate(-45)" text-anchor="end" fill="#333" stroke="#333">ORPHA:101987 (<tspan font-style="italic">n</tspan> = 19)</text>
<line x1="424.91" y1="555.3" x2="424.91" y2="557.8" stroke="#555" stroke-width="0.6"/>
<circle cx="425.61" cy="561.8" r="0.5" fill="#555"/>
<circle cx="423.81" cy="563.6" r="0.5" fill="#555"/>
<circle cx="422.01" cy="565.4" r="0.5" fill="#555"/>
<line x1="432.74" y1="555.3" x2="432.74" y2="557.8" stroke="#555" stroke-width="0.6"/>
<text transform="translate(435.64,562.2) rotate(-45)" text-anchor="end" fill="#333" stroke="#333">ORPHA:437 (<tspan font-style="italic">n</tspan> = 18)</text>
<line x1="440.57" y1="555.3" x2="440.57" y2="557.8" stroke="#555" stroke-width="0.6"/>
<circle cx="441.27" cy="561.8" r="0.5" fill="#555"/>
<circle cx="439.47" cy="563.6" r="0.5" fill="#555"/>
<circle cx="437.67" cy="565.4" r="0.5" fill="#555"/>
<line x1="448.4" y1="555.3" x2="448.4" y2="557.8" stroke="#555" stroke-width="0.6"/>
<text transform="translate(451.3,562.2) rotate(-45)" text-anchor="end" fill="#333" stroke="#333">MONDO:0010030 (<tspan font-style="italic">n</tspan> = 17)</text>
<line x1="456.23" y1="555.3" x2="456.23" y2="557.8" stroke="#555" stroke-width="0.6"/>
<circle cx="456.93" cy="561.8" r="0.5" fill="#555"/>
<circle cx="455.13" cy="563.6" r="0.5" fill="#555"/>
<circle cx="453.33" cy="565.4" r="0.5" fill="#555"/>
<line x1="464.06" y1="555.3" x2="464.06" y2="557.8" stroke="#555" stroke-width="0.6"/>
<text transform="translate(466.96,562.2) rotate(-45)" text-anchor="end" fill="#333" stroke="#333">MONDO:0800044 (<tspan font-style="italic">n</tspan> = 17)</text>
<line x1="471.89" y1="555.3" x2="471.89" y2="557.8" stroke="#555" stroke-width="0.6"/>
<circle cx="472.59" cy="561.8" r="0.5" fill="#555"/>
<circle cx="470.79" cy="563.6" r="0.5" fill="#555"/>
<circle cx="468.99" cy="565.4" r="0.5" fill="#555"/>
<line x1="479.72" y1="555.3" x2="479.72" y2="557.8" stroke="#555" stroke-width="0.6"/>
<text transform="translate(482.62,562.2) rotate(-45)" text-anchor="end" fill="#333" stroke="#333">MONDO:0008558 (<tspan font-style="italic">n</tspan> = 16)</text>
<line x1="487.55" y1="555.3" x2="487.55" y2="557.8" stroke="#555" stroke-width="0.6"/>
<circle cx="488.25" cy="561.8" r="0.5" fill="#555"/>
<circle cx="486.45" cy="563.6" r="0.5" fill="#555"/>
<circle cx="484.65" cy="565.4" r="0.5" fill="#555"/>
<line x1="495.38" y1="555.3" x2="495.38" y2="557.8" stroke="#555" stroke-width="0.6"/>
<text transform="translate(498.28,562.2) rotate(-45)" text-anchor="end" fill="#333" stroke="#333">ORPHA:217604 (<tspan font-style="italic">n</tspan> = 16)</text>
<line x1="503.21" y1="555.3" x2="503.21" y2="557.8" stroke="#555" stroke-width="0.6"/>
<circle cx="503.91" cy="561.8" r="0.5" fill="#555"/>
<circle cx="502.11" cy="563.6" r="0.5" fill="#555"/>
<circle cx="500.31" cy="565.4" r="0.5" fill="#555"/>
<line x1="511.04" y1="555.3" x2="511.04" y2="557.8" stroke="#555" stroke-width="0.6"/>
<text transform="translate(513.94,562.2) rotate(-45)" text-anchor="end" fill="#333" stroke="#333">CCRD:30 (<tspan font-style="italic">n</tspan> = 15)</text>
<line x1="518.87" y1="555.3" x2="518.87" y2="557.8" stroke="#555" stroke-width="0.6"/>
<circle cx="519.57" cy="561.8" r="0.5" fill="#555"/>
<circle cx="517.77" cy="563.6" r="0.5" fill="#555"/>
<circle cx="515.97" cy="565.4" r="0.5" fill="#555"/>
<line x1="526.7" y1="555.3" x2="526.7" y2="557.8" stroke="#555" stroke-width="0.6"/>
<text transform="translate(529.6,562.2) rotate(-45)" text-anchor="end" fill="#333" stroke="#333">ORPHA:206966 (<tspan font-style="italic">n</tspan> = 15)</text>
<line x1="534.53" y1="555.3" x2="534.53" y2="557.8" stroke="#555" stroke-width="0.6"/>
<circle cx="535.23" cy="561.8" r="0.5" fill="#555"/>
<circle cx="533.43" cy="563.6" r="0.5" fill="#555"/>
<circle cx="531.63" cy="565.4" r="0.5" fill="#555"/>
<line x1="542.36" y1="555.3" x2="542.36" y2="557.8" stroke="#555" stroke-width="0.6"/>
<text transform="translate(545.26,562.2) rotate(-45)" text-anchor="end" fill="#333" stroke="#333">CCRD:99 (<tspan font-style="italic">n</tspan> = 14)</text>
<line x1="550.19" y1="555.3" x2="550.19" y2="557.8" stroke="#555" stroke-width="0.6"/>
<circle cx="550.89" cy="561.8" r="0.5" fill="#555"/>
<circle cx="549.09" cy="563.6" r="0.5" fill="#555"/>
<circle cx="547.29" cy="565.4" r="0.5" fill="#555"/>
<line x1="558.02" y1="555.3" x2="558.02" y2="557.8" stroke="#555" stroke-width="0.6"/>
<text transform="translate(560.92,562.2) rotate(-45)" text-anchor="end" fill="#333" stroke="#333">MONDO:0007452 (<tspan font-style="italic">n</tspan> = 13)</text>
<line x1="565.85" y1="555.3" x2="565.85" y2="557.8" stroke="#555" stroke-width="0.6"/>
<circle cx="566.55" cy="561.8" r="0.5" fill="#555"/>
<circle cx="564.75" cy="563.6" r="0.5" fill="#555"/>
<circle cx="562.95" cy="565.4" r="0.5" fill="#555"/>
<line x1="573.68" y1="555.3" x2="573.68" y2="557.8" stroke="#555" stroke-width="0.6"/>
<text transform="translate(576.58,562.2) rotate(-45)" text-anchor="end" fill="#333" stroke="#333">MONDO:0018820 (<tspan font-style="italic">n</tspan> = 13)</text>
<line x1="581.51" y1="555.3" x2="581.51" y2="557.8" stroke="#555" stroke-width="0.6"/>
<circle cx="582.21" cy="561.8" r="0.5" fill="#555"/>
<circle cx="580.41" cy="563.6" r="0.5" fill="#555"/>
<circle cx="578.61" cy="565.4" r="0.5" fill="#555"/>
<line x1="589.34" y1="555.3" x2="589.34" y2="557.8" stroke="#555" stroke-width="0.6"/>
<text transform="translate(592.24,562.2) rotate(-45)" text-anchor="end" fill="#333" stroke="#333">ORPHA:217678 (<tspan font-style="italic">n</tspan> = 12)</text>
<line x1="597.17" y1="555.3" x2="597.17" y2="557.8" stroke="#555" stroke-width="0.6"/>
<circle cx="597.87" cy="561.8" r="0.5" fill="#555"/>
<circle cx="596.07" cy="563.6" r="0.5" fill="#555"/>
<circle cx="594.27" cy="565.4" r="0.5" fill="#555"/>
<line x1="605" y1="555.3" x2="605" y2="557.8" stroke="#555" stroke-width="0.6"/>
<text transform="translate(607.9,562.2) rotate(-45)" text-anchor="end" fill="#333" stroke="#333">MONDO:0007252 (<tspan font-style="italic">n</tspan> = 12)</text>
<line x1="612.83" y1="555.3" x2="612.83" y2="557.8" stroke="#555" stroke-width="0.6"/>
<circle cx="613.53" cy="561.8" r="0.5" fill="#555"/>
<circle cx="611.73" cy="563.6" r="0.5" fill="#555"/>
<circle cx="609.93" cy="565.4" r="0.5" fill="#555"/>
<line x1="620.66" y1="555.3" x2="620.66" y2="557.8" stroke="#555" stroke-width="0.6"/>
<text transform="translate(623.56,562.2) rotate(-45)" text-anchor="end" fill="#333" stroke="#333">MONDO:0009067 (<tspan font-style="italic">n</tspan> = 11)</text>
<line x1="628.49" y1="555.3" x2="628.49" y2="557.8" stroke="#555" stroke-width="0.6"/>
<circle cx="629.19" cy="561.8" r="0.5" fill="#555"/>
<circle cx="627.39" cy="563.6" r="0.5" fill="#555"/>
<circle cx="625.59" cy="565.4" r="0.5" fill="#555"/>
<line x1="636.32" y1="555.3" x2="636.32" y2="557.8" stroke="#555" stroke-width="0.6"/>
<text transform="translate(639.22,562.2) rotate(-45)" text-anchor="end" fill="#333" stroke="#333">ORPHA:558411 (<tspan font-style="italic">n</tspan> = 11)</text>
<text x="351.7" y="630" text-anchor="middle" stroke="#222">Standard disease ID</text>
<circle cx="63.6" cy="424.4" r="1.05" fill="#c8505e" stroke="#6a3038" stroke-width="0.3"/>
<text x="68" y="426.7" stroke="#222">DeepRare</text>
<circle cx="63.6" cy="435.4" r="0.95" fill="#d2d2d2"/>
<text x="68" y="437.7" stroke="#222">General LLMs</text>
<circle cx="122" cy="424.4" r="0.95" fill="#c3c3ef"/>
<text x="126.4" y="426.7" stroke="#222">Reasoning LLMs</text>
<circle cx="122" cy="435.4" r="0.95" fill="#86c486"/>
<text x="126.4" y="437.7" stroke="#222">Medical LLMs</text>
<circle cx="56.9" cy="514.55" r="1.65" fill="#ef7382" stroke="#4f3236" stroke-width="0.55"/>
<circle cx="62.12" cy="506.42" r="1.65" fill="#ef7382" stroke="#4f3236" stroke-width="0.55"/>
<circle cx="67.34" cy="529.3" r="1.65" fill="#ef7382" stroke="#4f3236" stroke-width="0.55"/>
<circle cx="72.56" cy="523.55" r="1.65" fill="#ef7382" stroke="#4f3236" stroke-width="0.55"/>
<circle cx="77.78" cy="485.55" r="1.65" fill="#ef7382" stroke="#4f3236" stroke-width="0.55"/>
<circle cx="83" cy="514.55" r="1.65" fill="#ef7382" stroke="#4f3236" stroke-width="0.55"/>
<circle cx="88.22" cy="497.3" r="1.65" fill="#ef7382" stroke="#4f3236" stroke-width="0.55"/>
<circle cx="93.44" cy="517.05" r="1.65" fill="#ef7382" stroke="#4f3236" stroke-width="0.55"/>
<circle cx="98.66" cy="522.3" r="1.65" fill="#ef7382" stroke="#4f3236" stroke-width="0.55"/>
<circle cx="103.88" cy="516.8" r="1.65" fill="#ef7382" stroke="#4f3236" stroke-width="0.55"/>
<circle cx="109.1" cy="494.92" r="1.65" fill="#ef7382" stroke="#4f3236" stroke-width="0.55"/>
<circle cx="114.32" cy="507.55" r="1.65" fill="#ef7382" stroke="#4f3236" stroke-width="0.55"/>
<circle cx="119.54" cy="496.05" r="1.65" fill="#ef7382" stroke="#4f3236" stroke-width="0.55"/>
<circle cx="124.76" cy="509.3" r="1.65" fill="#ef7382" stroke="#4f3236" stroke-width="0.55"/>
<circle cx="129.98" cy="505.3" r="1.65" fill="#ef7382" stroke="#4f3236" stroke-width="0.55"/>
<circle cx="135.2" cy="515.42" r="1.65" fill="#ef7382" stroke="#4f3236" stroke-width="0.55"/>
<circle cx="140.42" cy="524.3" r="1.65" fill="#ef7382" stroke="#4f3236" stroke-width="0.55"/>
<circle cx="145.64" cy="529.3" r="1.65" fill="#ef7382" stroke="#4f3236" stroke-width="0.55"/>
<circle cx="150.86" cy="504.67" r="1.65" fill="#ef7382" stroke="#4f3236" stroke-width="0.55"/>
<circle cx="156.08" cy="511.67" r="1.65" fill="#ef7382" stroke="#4f3236" stroke-width="0.55"/>
<circle cx="161.3" cy="520.42" r="1.65" fill="#ef7382" stroke="#4f3236" stroke-width="0.55"/>
<circle cx="166.52" cy="516.42" r="1.65" fill="#ef7382" stroke="#4f3236" stroke-width="0.55"/>
<circle cx="171.74" cy="521.55" r="1.65" fill="#ef7382" stroke="#4f3236" stroke-width="0.55"/>
<circle cx="176.96" cy="509.92" r="1.65" fill="#ef7382" stroke="#4f3236" stroke-width="0.55"/>
<circle cx="182.18" cy="494.17" r="1.65" fill="#ef7382" stroke="#4f3236" stroke-width="0.55"/>
<circle cx="187.4" cy="505.3" r="1.65" fill="#ef7382" stroke="#4f3236" stroke-width="0.55"/>
<circle cx="192.62" cy="526.55" r="1.65" fill="#ef7382" stroke="#4f3236" stroke-width="0.55"/>
<circle cx="197.84" cy="511.42" r="1.65" fill="#ef7382" stroke="#4f3236" stroke-width="0.55"/>
<circle cx="203.06" cy="496.42" r="1.65" fill="#ef7382" stroke="#4f3236" stroke-width="0.55"/>
<circle cx="208.28" cy="490.8" r="1.65" fill="#ef7382" stroke="#4f3236" stroke-width="0.55"/>
<circle cx="213.5" cy="526.05" r="1.65" fill="#ef7382" stroke="#4f3236" stroke-width="0.55"/>
<circle cx="218.72" cy="506.42" r="1.65" fill="#ef7382" stroke="#4f3236" stroke-width="0.55"/>
<circle cx="223.94" cy="513.05" r="1.65" fill="#ef7382" stroke="#4f3236" stroke-width="0.55"/>
<circle cx="229.16" cy="525.05" r="1.65" fill="#ef7382" stroke="#4f3236" stroke-width="0.55"/>
<circle cx="234.38" cy="516.05" r="1.65" fill="#ef7382" stroke="#4f3236" stroke-width="0.55"/>
<circle cx="239.6" cy="511.67" r="1.65" fill="#ef7382" stroke="#4f3236" stroke-width="0.55"/>
<circle cx="244.82" cy="514.92" r="1.65" fill="#ef7382" stroke="#4f3236" stroke-width="0.55"/>
<circle cx="250.04" cy="510.55" r="1.65" fill="#ef7382" stroke="#4f3236" stroke-width="0.55"/>
<circle cx="255.26" cy="500.3" r="1.65" fill="#ef7382" stroke="#4f3236" stroke-width="0.55"/>
<circle cx="260.48" cy="544.8" r="1.65" fill="#ef7382" stroke="#4f3236" stroke-width="0.55"/>
<circle cx="265.7" cy="513.55" r="1.65" fill="#ef7382" stroke="#4f3236" stroke-width="0.55"/>
<circle cx="270.92" cy="522.3" r="1.65" fill="#ef7382" stroke="#4f3236" stroke-width="0.55"/>
<circle cx="276.14" cy="512.05" r="1.65" fill="#ef7382" stroke="#4f3236" stroke-width="0.55"/>
<circle cx="281.36" cy="466.17" r="1.65" fill="#ef7382" stroke="#4f3236" stroke-width="0.55"/>
<circle cx="286.58" cy="526.05" r="1.65" fill="#ef7382" stroke="#4f3236" stroke-width="0.55"/>
<circle cx="291.8" cy="470.67" r="1.65" fill="#ef7382" stroke="#4f3236" stroke-width="0.55"/>
<circle cx="297.02" cy="501.17" r="1.65" fill="#ef7382" stroke="#4f3236" stroke-width="0.55"/>
<circle cx="302.24" cy="514.3" r="1.65" fill="#ef7382" stroke="#4f3236" stroke-width="0.55"/>
<circle cx="307.46" cy="499.3" r="1.65" fill="#ef7382" stroke="#4f3236" stroke-width="0.55"/>
<circle cx="312.68" cy="504.3" r="1.65" fill="#ef7382" stroke="#4f3236" stroke-width="0.55"/>
<circle cx="317.9" cy="489.55" r="1.65" fill="#ef7382" stroke="#4f3236" stroke-width="0.55"/>
<circle cx="323.12" cy="507.67" r="1.65" fill="#ef7382" stroke="#4f3236" stroke-width="0.55"/>
<circle cx="328.34" cy="424.8" r="1.65" fill="#ef7382" stroke="#4f3236" stroke-width="0.55"/>
<circle cx="333.56" cy="497.3" r="1.65" fill="#ef7382" stroke="#4f3236" stroke-width="0.55"/>
<circle cx="338.78" cy="497.3" r="1.65" fill="#ef7382" stroke="#4f3236" stroke-width="0.55"/>
<circle cx="344" cy="512.8" r="1.65" fill="#ef7382" stroke="#4f3236" stroke-width="0.55"/>
<circle cx="349.22" cy="481.8" r="1.65" fill="#ef7382" stroke="#4f3236" stroke-width="0.55"/>
<circle cx="354.44" cy="505.8" r="1.65" fill="#ef7382" stroke="#4f3236" stroke-width="0.55"/>
<circle cx="359.66" cy="495.05" r="1.65" fill="#ef7382" stroke="#4f3236" stroke-width="0.55"/>
<circle cx="364.88" cy="532.8" r="1.65" fill="#ef7382" stroke="#4f3236" stroke-width="0.55"/>
<circle cx="370.1" cy="489.67" r="1.65" fill="#ef7382" stroke="#4f3236" stroke-width="0.55"/>
<circle cx="375.32" cy="521.05" r="1.65" fill="#ef7382" stroke="#4f3236" stroke-width="0.55"/>
<circle cx="380.54" cy="526.55" r="1.65" fill="#ef7382" stroke="#4f3236" stroke-width="0.55"/>
<circle cx="385.76" cy="526.55" r="1.65" fill="#ef7382" stroke="#4f3236" stroke-width="0.55"/>
<circle cx="390.98" cy="515.05" r="1.65" fill="#ef7382" stroke="#4f3236" stroke-width="0.55"/>
<circle cx="396.2" cy="453.05" r="1.65" fill="#ef7382" stroke="#4f3236" stroke-width="0.55"/>
<circle cx="401.42" cy="524.05" r="1.65" fill="#ef7382" stroke="#4f3236" stroke-width="0.55"/>
<circle cx="406.64" cy="443.55" r="1.65" fill="#ef7382" stroke="#4f3236" stroke-width="0.55"/>
<circle cx="411.86" cy="505.55" r="1.65" fill="#ef7382" stroke="#4f3236" stroke-width="0.55"/>
<circle cx="417.08" cy="509.67" r="1.65" fill="#ef7382" stroke="#4f3236" stroke-width="0.55"/>
<circle cx="422.3" cy="522.8" r="1.65" fill="#ef7382" stroke="#4f3236" stroke-width="0.55"/>
<circle cx="427.52" cy="424.8" r="1.65" fill="#ef7382" stroke="#4f3236" stroke-width="0.55"/>
<circle cx="432.74" cy="473.05" r="1.65" fill="#ef7382" stroke="#4f3236" stroke-width="0.55"/>
<circle cx="437.96" cy="521.55" r="1.65" fill="#ef7382" stroke="#4f3236" stroke-width="0.55"/>
<circle cx="443.18" cy="505.3" r="1.65" fill="#ef7382" stroke="#4f3236" stroke-width="0.55"/>
<circle cx="448.4" cy="527.05" r="1.65" fill="#ef7382" stroke="#4f3236" stroke-width="0.55"/>
<circle cx="453.62" cy="461.42" r="1.65" fill="#ef7382" stroke="#4f3236" stroke-width="0.55"/>
<circle cx="458.84" cy="461.42" r="1.65" fill="#ef7382" stroke="#4f3236" stroke-width="0.55"/>
<circle cx="464.06" cy="541.92" r="1.65" fill="#ef7382" stroke="#4f3236" stroke-width="0.55"/>
<circle cx="469.28" cy="497.92" r="1.65" fill="#ef7382" stroke="#4f3236" stroke-width="0.55"/>
<circle cx="474.5" cy="432.55" r="1.65" fill="#ef7382" stroke="#4f3236" stroke-width="0.55"/>
<circle cx="479.72" cy="526.05" r="1.65" fill="#ef7382" stroke="#4f3236" stroke-width="0.55"/>
<circle cx="484.94" cy="455.92" r="1.65" fill="#ef7382" stroke="#4f3236" stroke-width="0.55"/>
<circle cx="490.16" cy="494.92" r="1.65" fill="#ef7382" stroke="#4f3236" stroke-width="0.55"/>
<circle cx="495.38" cy="494.92" r="1.65" fill="#ef7382" stroke="#4f3236" stroke-width="0.55"/>
<circle cx="500.6" cy="518.05" r="1.65" fill="#ef7382" stroke="#4f3236" stroke-width="0.55"/>
<circle cx="505.82" cy="510.17" r="1.65" fill="#ef7382" stroke="#4f3236" stroke-width="0.55"/>
<circle cx="511.04" cy="507.55" r="1.65" fill="#ef7382" stroke="#4f3236" stroke-width="0.55"/>
<circle cx="516.26" cy="507.55" r="1.65" fill="#ef7382" stroke="#4f3236" stroke-width="0.55"/>
<circle cx="521.48" cy="507.55" r="1.65" fill="#ef7382" stroke="#4f3236" stroke-width="0.55"/>
<circle cx="526.7" cy="491.17" r="1.65" fill="#ef7382" stroke="#4f3236" stroke-width="0.55"/>
<circle cx="531.92" cy="513.55" r="1.65" fill="#ef7382" stroke="#4f3236" stroke-width="0.55"/>
<circle cx="537.14" cy="549.05" r="1.65" fill="#ef7382" stroke="#4f3236" stroke-width="0.55"/>
<circle cx="542.36" cy="504.92" r="1.65" fill="#ef7382" stroke="#4f3236" stroke-width="0.55"/>
<circle cx="547.58" cy="469.17" r="1.65" fill="#ef7382" stroke="#4f3236" stroke-width="0.55"/>
<circle cx="552.8" cy="472.67" r="1.65" fill="#ef7382" stroke="#4f3236" stroke-width="0.55"/>
<circle cx="558.02" cy="520.42" r="1.65" fill="#ef7382" stroke="#4f3236" stroke-width="0.55"/>
<circle cx="563.24" cy="539.67" r="1.65" fill="#ef7382" stroke="#4f3236" stroke-width="0.55"/>
<circle cx="568.46" cy="501.17" r="1.65" fill="#ef7382" stroke="#4f3236" stroke-width="0.55"/>
<circle cx="573.68" cy="472.67" r="1.65" fill="#ef7382" stroke="#4f3236" stroke-width="0.55"/>
<circle cx="578.9" cy="507.67" r="1.65" fill="#ef7382" stroke="#4f3236" stroke-width="0.55"/>
<circle cx="584.12" cy="497.3" r="1.65" fill="#ef7382" stroke="#4f3236" stroke-width="0.55"/>
<circle cx="589.34" cy="486.92" r="1.65" fill="#ef7382" stroke="#4f3236" stroke-width="0.55"/>
<circle cx="594.56" cy="549.05" r="1.65" fill="#ef7382" stroke="#4f3236" stroke-width="0.55"/>
<circle cx="599.78" cy="518.05" r="1.65" fill="#ef7382" stroke="#4f3236" stroke-width="0.55"/>
<circle cx="605" cy="476.55" r="1.65" fill="#ef7382" stroke="#4f3236" stroke-width="0.55"/>
<circle cx="610.22" cy="424.8" r="1.65" fill="#ef7382" stroke="#4f3236" stroke-width="0.55"/>
<circle cx="615.44" cy="515.17" r="1.65" fill="#ef7382" stroke="#4f3236" stroke-width="0.55"/>
<circle cx="620.66" cy="549.05" r="1.65" fill="#ef7382" stroke="#4f3236" stroke-width="0.55"/>
<circle cx="625.88" cy="504.05" r="1.65" fill="#ef7382" stroke="#4f3236" stroke-width="0.55"/>
<circle cx="631.1" cy="515.17" r="1.65" fill="#ef7382" stroke="#4f3236" stroke-width="0.55"/>
<circle cx="636.32" cy="515.17" r="1.65" fill="#ef7382" stroke="#4f3236" stroke-width="0.55"/>
<circle cx="641.54" cy="537.8" r="1.65" fill="#ef7382" stroke="#4f3236" stroke-width="0.55"/>
<circle cx="646.76" cy="492.67" r="1.65" fill="#ef7382" stroke="#4f3236" stroke-width="0.55"/>
<circle cx="56.9" cy="531.55" r="1.05" fill="#86c486"/>
<circle cx="56.9" cy="533.42" r="1.05" fill="#c3c3ef"/>
<circle cx="56.9" cy="532.42" r="1.05" fill="#d2d2d2"/>
<circle cx="62.12" cy="530.05" r="1.05" fill="#c3c3ef"/>
<circle cx="62.12" cy="532.42" r="1.05" fill="#d2d2d2"/>
<circle cx="62.12" cy="536.05" r="1.05" fill="#86c486"/>
<circle cx="67.34" cy="536.05" r="1.05" fill="#86c486"/>
<circle cx="67.34" cy="540.8" r="1.05" fill="#c3c3ef"/>
<circle cx="72.56" cy="529.67" r="1.05" fill="#86c486"/>
<circle cx="72.56" cy="536.05" r="1.05" fill="#d2d2d2"/>
<circle cx="72.56" cy="538.05" r="1.05" fill="#c3c3ef"/>
<circle cx="77.78" cy="490.8" r="1.05" fill="#d2d2d2"/>
<circle cx="77.78" cy="496.05" r="1.05" fill="#c3c3ef"/>
<circle cx="77.78" cy="497.67" r="1.05" fill="#86c486"/>
<circle cx="83" cy="528.17" r="1.05" fill="#d2d2d2"/>
<circle cx="83" cy="530.55" r="1.05" fill="#c3c3ef"/>
<circle cx="83" cy="532.42" r="1.05" fill="#86c486"/>
<circle cx="88.22" cy="499.3" r="1.05" fill="#86c486"/>
<circle cx="88.22" cy="510.17" r="1.05" fill="#d2d2d2"/>
<circle cx="88.22" cy="513.55" r="1.05" fill="#c3c3ef"/>
<circle cx="93.44" cy="525.55" r="1.05" fill="#86c486"/>
<circle cx="93.44" cy="533.92" r="1.05" fill="#d2d2d2"/>
<circle cx="93.44" cy="537.05" r="1.05" fill="#c3c3ef"/>
<circle cx="98.66" cy="535.55" r="1.05" fill="#d2d2d2"/>
<circle cx="98.66" cy="537.05" r="1.05" fill="#c3c3ef"/>
<circle cx="98.66" cy="542.17" r="1.05" fill="#86c486"/>
<circle cx="103.88" cy="524.3" r="1.05" fill="#86c486"/>
<circle cx="103.88" cy="531.92" r="1.05" fill="#c3c3ef"/>
<circle cx="109.1" cy="513.92" r="1.05" fill="#d2d2d2"/>
<circle cx="109.1" cy="517.55" r="1.05" fill="#c3c3ef"/>
<circle cx="109.1" cy="520.05" r="1.05" fill="#86c486"/>
<circle cx="114.32" cy="530.55" r="1.05" fill="#86c486"/>
<circle cx="114.32" cy="534.8" r="1.05" fill="#c3c3ef"/>
<circle cx="114.32" cy="535.55" r="1.05" fill="#d2d2d2"/>
<circle cx="119.54" cy="502.8" r="1.05" fill="#d2d2d2"/>
<circle cx="119.54" cy="505.05" r="1.05" fill="#86c486"/>
<circle cx="119.54" cy="507.55" r="1.05" fill="#c3c3ef"/>
<circle cx="124.76" cy="510.55" r="1.05" fill="#d2d2d2"/>
<circle cx="124.76" cy="518.55" r="1.05" fill="#86c486"/>
<circle cx="124.76" cy="523.17" r="1.05" fill="#c3c3ef"/>
<circle cx="129.98" cy="521.92" r="1.05" fill="#c3c3ef"/>
<circle cx="129.98" cy="524.67" r="1.05" fill="#86c486"/>
<circle cx="135.2" cy="528.17" r="1.05" fill="#c3c3ef"/>
<circle cx="135.2" cy="531.05" r="1.05" fill="#86c486"/>
<circle cx="140.42" cy="532.42" r="1.05" fill="#c3c3ef"/>
<circle cx="140.42" cy="538.05" r="1.05" fill="#86c486"/>
<circle cx="145.64" cy="531.92" r="1.05" fill="#86c486"/>
<circle cx="145.64" cy="534.8" r="1.05" fill="#c3c3ef"/>
<circle cx="150.86" cy="522.3" r="1.05" fill="#d2d2d2"/>
<circle cx="150.86" cy="531.55" r="1.05" fill="#86c486"/>
<circle cx="150.86" cy="537.05" r="1.05" fill="#c3c3ef"/>
<circle cx="156.08" cy="530.55" r="1.05" fill="#c3c3ef"/>
<circle cx="156.08" cy="533.67" r="1.05" fill="#86c486"/>
<circle cx="161.3" cy="530.05" r="1.05" fill="#86c486"/>
<circle cx="161.3" cy="533.05" r="1.05" fill="#d2d2d2"/>
<circle cx="161.3" cy="536.55" r="1.05" fill="#c3c3ef"/>
<circle cx="166.52" cy="532.8" r="1.05" fill="#86c486"/>
<circle cx="166.52" cy="539.3" r="1.05" fill="#d2d2d2"/>
<circle cx="171.74" cy="524.3" r="1.05" fill="#d2d2d2"/>
<circle cx="171.74" cy="528.17" r="1.05" fill="#86c486"/>
<circle cx="176.96" cy="502.8" r="1.05" fill="#86c486"/>
<circle cx="176.96" cy="520.8" r="1.05" fill="#c3c3ef"/>
<circle cx="182.18" cy="526.92" r="1.05" fill="#d2d2d2"/>
<circle cx="182.18" cy="530.8" r="1.05" fill="#86c486"/>
<circle cx="187.4" cy="519.92" r="1.05" fill="#c3c3ef"/>
<circle cx="187.4" cy="523.55" r="1.05" fill="#86c486"/>
<circle cx="187.4" cy="527.05" r="1.05" fill="#d2d2d2"/>
<circle cx="192.62" cy="537.8" r="1.05" fill="#86c486"/>
<circle cx="192.62" cy="541.67" r="1.05" fill="#c3c3ef"/>
<circle cx="197.84" cy="530.17" r="1.05" fill="#c3c3ef"/>
<circle cx="197.84" cy="533.92" r="1.05" fill="#86c486"/>
<circle cx="203.06" cy="500.05" r="1.05" fill="#86c486"/>
<circle cx="203.06" cy="507.55" r="1.05" fill="#d2d2d2"/>
<circle cx="203.06" cy="526.55" r="1.05" fill="#c3c3ef"/>
<circle cx="208.28" cy="514.3" r="1.05" fill="#86c486"/>
<circle cx="208.28" cy="526.05" r="1.05" fill="#d2d2d2"/>
<circle cx="208.28" cy="537.42" r="1.05" fill="#c3c3ef"/>
<circle cx="213.5" cy="537.42" r="1.05" fill="#c3c3ef"/>
<circle cx="213.5" cy="541.3" r="1.05" fill="#d2d2d2"/>
<circle cx="213.5" cy="545.17" r="1.05" fill="#86c486"/>
<circle cx="218.72" cy="529.67" r="1.05" fill="#86c486"/>
<circle cx="218.72" cy="533.55" r="1.05" fill="#c3c3ef"/>
<circle cx="218.72" cy="545.17" r="1.05" fill="#d2d2d2"/>
<circle cx="223.94" cy="521.05" r="1.05" fill="#86c486"/>
<circle cx="223.94" cy="533.05" r="1.05" fill="#c3c3ef"/>
<circle cx="229.16" cy="529.05" r="1.05" fill="#c3c3ef"/>
<circle cx="229.16" cy="537.05" r="1.05" fill="#86c486"/>
<circle cx="229.16" cy="541.3" r="1.05" fill="#d2d2d2"/>
<circle cx="234.38" cy="528.42" r="1.05" fill="#d2d2d2"/>
<circle cx="234.38" cy="536.67" r="1.05" fill="#86c486"/>
<circle cx="239.6" cy="528.42" r="1.05" fill="#c3c3ef"/>
<circle cx="239.6" cy="536.67" r="1.05" fill="#86c486"/>
<circle cx="244.82" cy="523.42" r="1.05" fill="#c3c3ef"/>
<circle cx="244.82" cy="531.92" r="1.05" fill="#86c486"/>
<circle cx="250.04" cy="514.92" r="1.05" fill="#86c486"/>
<circle cx="250.04" cy="527.8" r="1.05" fill="#d2d2d2"/>
<circle cx="250.04" cy="536.3" r="1.05" fill="#c3c3ef"/>
<circle cx="255.26" cy="522.3" r="1.05" fill="#86c486"/>
<circle cx="255.26" cy="527.05" r="1.05" fill="#d2d2d2"/>
<circle cx="260.48" cy="540.17" r="1.05" fill="#c3c3ef"/>
<circle cx="260.48" cy="549.05" r="1.05" fill="#86c486"/>
<circle cx="265.7" cy="526.92" r="1.05" fill="#86c486"/>
<circle cx="265.7" cy="531.55" r="1.05" fill="#d2d2d2"/>
<circle cx="270.92" cy="513.55" r="1.05" fill="#d2d2d2"/>
<circle cx="270.92" cy="526.92" r="1.05" fill="#86c486"/>
<circle cx="270.92" cy="522.3" r="1.45" fill="#c3c3ef" fill-opacity="0.9"/>
<circle cx="276.14" cy="521.67" r="1.05" fill="#86c486"/>
<circle cx="276.14" cy="530.8" r="1.05" fill="#c3c3ef"/>
<circle cx="281.36" cy="480.05" r="1.05" fill="#d2d2d2"/>
<circle cx="281.36" cy="484.67" r="1.05" fill="#86c486"/>
<circle cx="281.36" cy="503.05" r="1.05" fill="#c3c3ef"/>
<circle cx="286.58" cy="530.8" r="1.05" fill="#c3c3ef"/>
<circle cx="286.58" cy="544.55" r="1.05" fill="#86c486"/>
<circle cx="291.8" cy="494.05" r="1.05" fill="#d2d2d2"/>
<circle cx="291.8" cy="498.42" r="1.05" fill="#86c486"/>
<circle cx="297.02" cy="525.17" r="1.05" fill="#d2d2d2"/>
<circle cx="297.02" cy="530.05" r="1.05" fill="#86c486"/>
<circle cx="302.24" cy="524.3" r="1.05" fill="#d2d2d2"/>
<circle cx="302.24" cy="529.05" r="1.05" fill="#86c486"/>
<circle cx="302.24" cy="534.3" r="1.05" fill="#c3c3ef"/>
<circle cx="307.46" cy="504.55" r="1.05" fill="#c3c3ef"/>
<circle cx="307.46" cy="514.3" r="1.05" fill="#86c486"/>
<circle cx="312.68" cy="524.3" r="1.05" fill="#86c486"/>
<circle cx="312.68" cy="534.3" r="1.05" fill="#c3c3ef"/>
<circle cx="317.9" cy="514.3" r="1.05" fill="#86c486"/>
<circle cx="317.9" cy="519.05" r="1.05" fill="#c3c3ef"/>
<circle cx="323.12" cy="523.17" r="1.05" fill="#d2d2d2"/>
<circle cx="323.12" cy="533.55" r="1.05" fill="#86c486"/>
<circle cx="323.12" cy="549.05" r="1.05" fill="#c3c3ef"/>
<circle cx="328.34" cy="528.42" r="1.05" fill="#d2d2d2"/>
<circle cx="328.34" cy="538.67" r="1.05" fill="#c3c3ef"/>
<circle cx="328.34" cy="549.05" r="1.05" fill="#86c486"/>
<circle cx="333.56" cy="518.05" r="1.05" fill="#d2d2d2"/>
<circle cx="333.56" cy="528.42" r="1.05" fill="#86c486"/>
<circle cx="333.56" cy="538.67" r="1.05" fill="#c3c3ef"/>
<circle cx="338.78" cy="502.55" r="1.05" fill="#c3c3ef"/>
<circle cx="338.78" cy="523.17" r="1.05" fill="#d2d2d2"/>
<circle cx="338.78" cy="538.67" r="1.05" fill="#86c486"/>
<circle cx="344" cy="502.55" r="1.05" fill="#c3c3ef"/>
<circle cx="344" cy="543.92" r="1.05" fill="#86c486"/>
<circle cx="344" cy="512.8" r="1.45" fill="#d2d2d2" fill-opacity="0.9"/>
<circle cx="349.22" cy="497.3" r="1.05" fill="#86c486"/>
<circle cx="349.22" cy="481.8" r="1.45" fill="#c3c3ef" fill-opacity="0.9"/>
<circle cx="354.44" cy="532.8" r="1.05" fill="#86c486"/>
<circle cx="354.44" cy="538.42" r="1.05" fill="#c3c3ef"/>
<circle cx="359.66" cy="489.67" r="1.05" fill="#c3c3ef"/>
<circle cx="359.66" cy="500.42" r="1.05" fill="#86c486"/>
<circle cx="364.88" cy="521.92" r="1.05" fill="#c3c3ef"/>
<circle cx="364.88" cy="527.42" r="1.05" fill="#d2d2d2"/>
<circle cx="364.88" cy="549.05" r="1.05" fill="#86c486"/>
<circle cx="370.1" cy="505.8" r="1.05" fill="#d2d2d2"/>
<circle cx="370.1" cy="521.92" r="1.05" fill="#86c486"/>
<circle cx="370.1" cy="527.42" r="1.05" fill="#c3c3ef"/>
<circle cx="375.32" cy="537.8" r="1.05" fill="#86c486"/>
<circle cx="375.32" cy="543.3" r="1.05" fill="#d2d2d2"/>
<circle cx="380.54" cy="537.55" r="1.05" fill="#c3c3ef"/>
<circle cx="380.54" cy="543.3" r="1.05" fill="#86c486"/>
<circle cx="385.76" cy="537.55" r="1.05" fill="#d2d2d2"/>
<circle cx="385.76" cy="543.3" r="1.05" fill="#86c486"/>
<circle cx="385.76" cy="526.55" r="1.45" fill="#c3c3ef" fill-opacity="0.9"/>
<circle cx="390.98" cy="526.55" r="1.05" fill="#d2d2d2"/>
<circle cx="390.98" cy="532.05" r="1.05" fill="#c3c3ef"/>
<circle cx="390.98" cy="537.55" r="1.05" fill="#86c486"/>
<circle cx="396.2" cy="492.67" r="1.05" fill="#c3c3ef"/>
<circle cx="396.2" cy="543.3" r="1.05" fill="#86c486"/>
<circle cx="401.42" cy="536.92" r="1.05" fill="#d2d2d2"/>
<circle cx="401.42" cy="542.8" r="1.05" fill="#86c486"/>
<circle cx="406.64" cy="437.17" r="1.05" fill="#d2d2d2"/>
<circle cx="406.64" cy="462.05" r="1.05" fill="#c3c3ef"/>
<circle cx="406.64" cy="549.05" r="1.05" fill="#86c486"/>
<circle cx="411.86" cy="524.3" r="1.05" fill="#86c486"/>
<circle cx="411.86" cy="530.55" r="1.05" fill="#d2d2d2"/>
<circle cx="411.86" cy="536.8" r="1.05" fill="#c3c3ef"/>
<circle cx="417.08" cy="529.67" r="1.05" fill="#86c486"/>
<circle cx="417.08" cy="536.3" r="1.05" fill="#c3c3ef"/>
<circle cx="422.3" cy="529.67" r="1.05" fill="#86c486"/>
<circle cx="422.3" cy="536.3" r="1.05" fill="#c3c3ef"/>
<circle cx="427.52" cy="503.42" r="1.05" fill="#c3c3ef"/>
<circle cx="427.52" cy="509.92" r="1.05" fill="#d2d2d2"/>
<circle cx="427.52" cy="549.05" r="1.05" fill="#86c486"/>
<circle cx="432.74" cy="480.05" r="1.05" fill="#86c486"/>
<circle cx="432.74" cy="494.05" r="1.05" fill="#c3c3ef"/>
<circle cx="437.96" cy="528.42" r="1.05" fill="#86c486"/>
<circle cx="437.96" cy="535.17" r="1.05" fill="#c3c3ef"/>
<circle cx="437.96" cy="542.17" r="1.05" fill="#d2d2d2"/>
<circle cx="443.18" cy="527.05" r="1.05" fill="#86c486"/>
<circle cx="448.4" cy="534.55" r="1.05" fill="#c3c3ef"/>
<circle cx="448.4" cy="541.92" r="1.05" fill="#86c486"/>
<circle cx="453.62" cy="490.55" r="1.05" fill="#d2d2d2"/>
<circle cx="453.62" cy="505.3" r="1.05" fill="#86c486"/>
<circle cx="453.62" cy="512.55" r="1.05" fill="#c3c3ef"/>
<circle cx="458.84" cy="490.55" r="1.05" fill="#d2d2d2"/>
<circle cx="458.84" cy="497.92" r="1.05" fill="#86c486"/>
<circle cx="464.06" cy="549.05" r="1.05" fill="#86c486"/>
<circle cx="464.06" cy="541.92" r="1.45" fill="#c3c3ef" fill-opacity="0.9"/>
<circle cx="469.28" cy="505.3" r="1.05" fill="#86c486"/>
<circle cx="469.28" cy="519.92" r="1.05" fill="#c3c3ef"/>
<circle cx="469.28" cy="527.05" r="1.05" fill="#d2d2d2"/>
<circle cx="474.5" cy="471.42" r="1.05" fill="#c3c3ef"/>
<circle cx="474.5" cy="526.05" r="1.05" fill="#d2d2d2"/>
<circle cx="474.5" cy="549.05" r="1.05" fill="#86c486"/>
<circle cx="479.72" cy="533.55" r="1.05" fill="#c3c3ef"/>
<circle cx="479.72" cy="541.55" r="1.05" fill="#86c486"/>
<circle cx="484.94" cy="486.92" r="1.05" fill="#86c486"/>
<circle cx="484.94" cy="494.92" r="1.05" fill="#d2d2d2"/>
<circle cx="484.94" cy="502.55" r="1.05" fill="#c3c3ef"/>
<circle cx="490.16" cy="533.55" r="1.05" fill="#d2d2d2"/>
<circle cx="490.16" cy="541.55" r="1.05" fill="#86c486"/>
<circle cx="495.38" cy="518.05" r="1.05" fill="#d2d2d2"/>
<circle cx="495.38" cy="526.05" r="1.05" fill="#86c486"/>
<circle cx="495.38" cy="541.55" r="1.05" fill="#c3c3ef"/>
<circle cx="500.6" cy="526.05" r="1.05" fill="#c3c3ef"/>
<circle cx="500.6" cy="533.55" r="1.05" fill="#d2d2d2"/>
<circle cx="500.6" cy="541.55" r="1.05" fill="#86c486"/>
<circle cx="505.82" cy="518.05" r="1.05" fill="#86c486"/>
<circle cx="505.82" cy="526.05" r="1.05" fill="#d2d2d2"/>
<circle cx="505.82" cy="541.55" r="1.05" fill="#c3c3ef"/>
<circle cx="511.04" cy="532.42" r="1.05" fill="#c3c3ef"/>
<circle cx="511.04" cy="549.05" r="1.05" fill="#86c486"/>
<circle cx="516.26" cy="499.55" r="1.05" fill="#d2d2d2"/>
<circle cx="516.26" cy="516.17" r="1.05" fill="#86c486"/>
<circle cx="516.26" cy="507.55" r="1.45" fill="#c3c3ef" fill-opacity="0.9"/>
<circle cx="521.48" cy="532.42" r="1.05" fill="#86c486"/>
<circle cx="526.7" cy="516.17" r="1.05" fill="#86c486"/>
<circle cx="526.7" cy="524.3" r="1.05" fill="#c3c3ef"/>
<circle cx="531.92" cy="531.55" r="1.05" fill="#c3c3ef"/>
<circle cx="531.92" cy="540.42" r="1.05" fill="#86c486"/>
<circle cx="537.14" cy="549.05" r="1.45" fill="#86c486" fill-opacity="0.9"/>
<circle cx="542.36" cy="513.55" r="1.05" fill="#86c486"/>
<circle cx="542.36" cy="522.3" r="1.05" fill="#c3c3ef"/>
<circle cx="547.58" cy="513.55" r="1.05" fill="#86c486"/>
<circle cx="547.58" cy="522.3" r="1.05" fill="#c3c3ef"/>
<circle cx="547.58" cy="540.42" r="1.05" fill="#d2d2d2"/>
<circle cx="552.8" cy="520.42" r="1.05" fill="#d2d2d2"/>
<circle cx="552.8" cy="530.05" r="1.05" fill="#86c486"/>
<circle cx="558.02" cy="530.05" r="1.05" fill="#d2d2d2"/>
<circle cx="558.02" cy="539.67" r="1.05" fill="#86c486"/>
<circle cx="558.02" cy="549.05" r="1.05" fill="#c3c3ef"/>
<circle cx="563.24" cy="530.05" r="1.05" fill="#86c486"/>
<circle cx="563.24" cy="549.05" r="1.05" fill="#c3c3ef"/>
<circle cx="568.46" cy="510.8" r="1.05" fill="#86c486"/>
<circle cx="568.46" cy="520.42" r="1.05" fill="#d2d2d2"/>
<circle cx="568.46" cy="501.17" r="1.45" fill="#c3c3ef" fill-opacity="0.9"/>
<circle cx="573.68" cy="501.17" r="1.05" fill="#c3c3ef"/>
<circle cx="573.68" cy="520.42" r="1.05" fill="#86c486"/>
<circle cx="573.68" cy="539.67" r="1.05" fill="#d2d2d2"/>
<circle cx="578.9" cy="528.42" r="1.05" fill="#86c486"/>
<circle cx="578.9" cy="507.67" r="1.45" fill="#c3c3ef" fill-opacity="0.9"/>
<circle cx="584.12" cy="528.42" r="1.05" fill="#86c486"/>
<circle cx="584.12" cy="538.67" r="1.05" fill="#c3c3ef"/>
<circle cx="589.34" cy="507.67" r="1.05" fill="#c3c3ef"/>
<circle cx="589.34" cy="518.05" r="1.05" fill="#d2d2d2"/>
<circle cx="589.34" cy="528.42" r="1.05" fill="#86c486"/>
<circle cx="594.56" cy="549.05" r="1.45" fill="#86c486" fill-opacity="0.9"/>
<circle cx="599.78" cy="528.42" r="1.05" fill="#86c486"/>
<circle cx="599.78" cy="518.05" r="1.45" fill="#d2d2d2" fill-opacity="0.9"/>
<circle cx="605" cy="497.3" r="1.05" fill="#c3c3ef"/>
<circle cx="605" cy="549.05" r="1.05" fill="#86c486"/>
<circle cx="610.22" cy="447.42" r="1.05" fill="#c3c3ef"/>
<circle cx="610.22" cy="549.05" r="1.05" fill="#86c486"/>
<circle cx="615.44" cy="526.3" r="1.05" fill="#86c486"/>
<circle cx="615.44" cy="537.8" r="1.05" fill="#c3c3ef"/>
<circle cx="620.66" cy="537.8" r="1.05" fill="#86c486"/>
<circle cx="620.66" cy="549.05" r="1.45" fill="#c3c3ef" fill-opacity="0.9"/>
<circle cx="625.88" cy="515.17" r="1.05" fill="#86c486"/>
<circle cx="625.88" cy="504.05" r="1.45" fill="#d2d2d2" fill-opacity="0.9"/>
<circle cx="631.1" cy="504.05" r="1.05" fill="#86c486"/>
<circle cx="631.1" cy="526.3" r="1.05" fill="#d2d2d2"/>
<circle cx="631.1" cy="515.17" r="1.45" fill="#c3c3ef" fill-opacity="0.9"/>
<circle cx="636.32" cy="526.3" r="1.05" fill="#d2d2d2"/>
<circle cx="636.32" cy="537.8" r="1.05" fill="#86c486"/>
<circle cx="641.54" cy="526.3" r="1.05" fill="#86c486"/>
<circle cx="641.54" cy="526.3" r="1.05" fill="#d2d2d2"/>
<circle cx="646.76" cy="526.3" r="1.05" fill="#c3c3ef"/>
<circle cx="646.76" cy="492.67" r="1.45" fill="#86c486" fill-opacity="0.9"/>
<text x="7.1" y="646.7" font-size="10.8" font-weight="bold" fill="#000" style="stroke-width:0.5px" stroke="#000">c</text>
<line x1="38.6" y1="649.3" x2="38.6" y2="763.7" stroke="#8c8c8c" stroke-width="1"/>
<line x1="38.1" y1="763.7" x2="270.7" y2="763.7" stroke="#8c8c8c" stroke-width="1"/>
<line x1="36" y1="757.2" x2="38.6" y2="757.2" stroke="#666" stroke-width="0.6"/>
<text x="33.8" y="759.5" text-anchor="end" fill="#333" stroke="#333">0.50</text>
<line x1="36" y1="742.4" x2="38.6" y2="742.4" stroke="#666" stroke-width="0.6"/>
<text x="33.8" y="744.7" text-anchor="end" fill="#333" stroke="#333">0.55</text>
<line x1="36" y1="727.6" x2="38.6" y2="727.6" stroke="#666" stroke-width="0.6"/>
<text x="33.8" y="729.9" text-anchor="end" fill="#333" stroke="#333">0.60</text>
<line x1="36" y1="712.8" x2="38.6" y2="712.8" stroke="#666" stroke-width="0.6"/>
<text x="33.8" y="715.1" text-anchor="end" fill="#333" stroke="#333">0.65</text>
<line x1="36" y1="698" x2="38.6" y2="698" stroke="#666" stroke-width="0.6"/>
<text x="33.8" y="700.3" text-anchor="end" fill="#333" stroke="#333">0.70</text>
<line x1="36" y1="683.2" x2="38.6" y2="683.2" stroke="#666" stroke-width="0.6"/>
<text x="33.8" y="685.5" text-anchor="end" fill="#333" stroke="#333">0.75</text>
<line x1="36" y1="668.4" x2="38.6" y2="668.4" stroke="#666" stroke-width="0.6"/>
<text x="33.8" y="670.7" text-anchor="end" fill="#333" stroke="#333">0.80</text>
<line x1="36" y1="653.6" x2="38.6" y2="653.6" stroke="#666" stroke-width="0.6"/>
<text x="33.8" y="655.9" text-anchor="end" fill="#333" stroke="#333">0.85</text>
<text transform="translate(13.6,706.3) rotate(-90)" text-anchor="middle" stroke="#222">Score (%)</text>
<line x1="47.1" y1="655.5" x2="55.7" y2="655.5" stroke="#d8506c" stroke-width="1"/>
<text x="58.9" y="657.8" stroke="#222">Physician (with search engine)</text>
<rect x="47.3" y="662.2" width="8.6" height="3.6" fill="#97bbdc" stroke="#5a6e82" stroke-width="0.5"/>
<text x="58.9" y="666.1" stroke="#222">DeepSeek V3</text>
<rect x="47.3" y="670.7" width="8.6" height="3.6" fill="#ea7184" stroke="#7a4048" stroke-width="0.5"/>
<text x="58.9" y="674.6" stroke="#222">DeepRare</text>
<rect x="60.2" y="754.54" width="17.8" height="9.16" fill="#97bbdc" stroke="#60646a" stroke-width="0.5"/>
<rect x="88.6" y="714.58" width="17.8" height="49.12" fill="#ea7184" stroke="#60646a" stroke-width="0.5"/>
<rect x="60.2" y="754.54" width="17.8" height="9.16" fill="url(#hatch)"/>
<rect x="88.6" y="743.58" width="17.8" height="20.12" fill="url(#hatch)"/>
<line x1="83.3" y1="763.7" x2="83.3" y2="766.1" stroke="#555" stroke-width="0.6"/>
<text x="83.3" y="774.2" text-anchor="middle" fill="#333" stroke="#333">Recall@1</text>
<rect x="131.3" y="719.9" width="17.8" height="43.8" fill="#97bbdc" stroke="#60646a" stroke-width="0.5"/>
<rect x="159.7" y="679.94" width="17.8" height="83.76" fill="#ea7184" stroke="#60646a" stroke-width="0.5"/>
<rect x="131.3" y="719.9" width="17.8" height="43.8" fill="url(#hatch)"/>
<rect x="159.7" y="718.13" width="17.8" height="45.57" fill="url(#hatch)"/>
<line x1="154.4" y1="763.7" x2="154.4" y2="766.1" stroke="#555" stroke-width="0.6"/>
<text x="154.4" y="774.2" text-anchor="middle" fill="#333" stroke="#333">Recall@3</text>
<rect x="202.5" y="703.62" width="17.8" height="60.08" fill="#97bbdc" stroke="#60646a" stroke-width="0.5"/>
<rect x="230.9" y="672.84" width="17.8" height="90.86" fill="#ea7184" stroke="#60646a" stroke-width="0.5"/>
<rect x="202.5" y="711.02" width="17.8" height="52.68" fill="url(#hatch)"/>
<rect x="230.9" y="711.02" width="17.8" height="52.68" fill="url(#hatch)"/>
<line x1="225.6" y1="763.7" x2="225.6" y2="766.1" stroke="#555" stroke-width="0.6"/>
<text x="225.6" y="774.2" text-anchor="middle" fill="#333" stroke="#333">Recall@5</text>
<line x1="51" y1="744" x2="116" y2="744" stroke="#cc4463" stroke-width="1.6" stroke-opacity="0.55"/>
<line x1="122" y1="718.5" x2="187.1" y2="718.5" stroke="#b5203f" stroke-width="1" stroke-opacity="0.9"/>
<line x1="193.9" y1="711.5" x2="258.9" y2="711.5" stroke="#b5203f" stroke-width="1" stroke-opacity="0.9"/>
<text x="55.6" y="742.1" font-size="6" text-anchor="middle" fill="#b5203f" stroke="#b5203f">0.546</text>
<text x="126.6" y="716.4" font-size="6" text-anchor="middle" fill="#b5203f" stroke="#b5203f">0.632</text>
<text x="193.5" y="709.4" font-size="6" text-anchor="middle" fill="#b5203f" stroke="#b5203f">0.656</text>
<text x="71.6" y="751.6" font-size="5.8" text-anchor="middle" font-weight="bold" fill="#111" stroke="#111">0.509</text>
<text x="97.4" y="711.6" font-size="5.8" text-anchor="middle" font-weight="bold" fill="#111" stroke="#111">0.644</text>
<text x="145.8" y="716.6" font-size="5.8" text-anchor="middle" font-weight="bold" fill="#111" stroke="#111">0.626</text>
<text x="169.1" y="677.2" font-size="5.8" text-anchor="middle" font-weight="bold" fill="#111" stroke="#111">0.761</text>
<text x="212.3" y="701.4" font-size="5.8" text-anchor="middle" font-weight="bold" fill="#111" stroke="#111">0.681</text>
<text x="240.7" y="670" font-size="5.8" text-anchor="middle" font-weight="bold" fill="#111" stroke="#111">0.785</text>
<text x="277.6" y="647" font-size="10.8" font-weight="bold" fill="#000" style="stroke-width:0.5px" stroke="#000">d</text>
<line x1="306.3" y1="654.3" x2="306.3" y2="755.7" stroke="#8c8c8c" stroke-width="1"/>
<line x1="305.8" y1="755.7" x2="471.8" y2="755.7" stroke="#8c8c8c" stroke-width="1"/>
<line x1="303.1" y1="755.7" x2="306.3" y2="755.7" stroke="#666" stroke-width="0.6"/>
<text x="299.3" y="758" text-anchor="end" fill="#333" stroke="#333">0.2</text>
<line x1="303.1" y1="741.36" x2="306.3" y2="741.36" stroke="#666" stroke-width="0.6"/>
<text x="299.3" y="743.66" text-anchor="end" fill="#333" stroke="#333">0.3</text>
<line x1="303.1" y1="727.02" x2="306.3" y2="727.02" stroke="#666" stroke-width="0.6"/>
<text x="299.3" y="729.32" text-anchor="end" fill="#333" stroke="#333">0.4</text>
<line x1="303.1" y1="712.68" x2="306.3" y2="712.68" stroke="#666" stroke-width="0.6"/>
<text x="299.3" y="714.98" text-anchor="end" fill="#333" stroke="#333">0.5</text>
<line x1="303.1" y1="698.34" x2="306.3" y2="698.34" stroke="#666" stroke-width="0.6"/>
<text x="299.3" y="700.64" text-anchor="end" fill="#333" stroke="#333">0.6</text>
<line x1="303.1" y1="684" x2="306.3" y2="684" stroke="#666" stroke-width="0.6"/>
<text x="299.3" y="686.3" text-anchor="end" fill="#333" stroke="#333">0.7</text>
<line x1="303.1" y1="669.66" x2="306.3" y2="669.66" stroke="#666" stroke-width="0.6"/>
<text x="299.3" y="671.96" text-anchor="end" fill="#333" stroke="#333">0.8</text>
<line x1="303.1" y1="655.32" x2="306.3" y2="655.32" stroke="#666" stroke-width="0.6"/>
<text x="299.3" y="657.62" text-anchor="end" fill="#333" stroke="#333">0.9</text>
<text transform="translate(283.3,705.6) rotate(-90)" text-anchor="middle" stroke="#222">Recall value</text>
<text x="385" y="648.3" text-anchor="middle" stroke="#222">Xinhua hospital (<tspan font-style="italic">N</tspan> = 168)</text>
<rect x="310.2" y="659.2" width="9.8" height="3.7" fill="#80bcd9" stroke="#555" stroke-width="0.5"/>
<text x="323" y="662.9" stroke="#222">R@1</text>
<rect x="310.2" y="666.2" width="9.8" height="3.7" fill="#cb95b2" stroke="#555" stroke-width="0.5"/>
<text x="323" y="669.9" stroke="#222">R@3</text>
<rect x="310.2" y="673.4" width="9.8" height="3.7" fill="#fcd06e" stroke="#555" stroke-width="0.5"/>
<text x="323" y="677.1" stroke="#222">R@5</text>
<rect x="313.4" y="727.16" width="13.7" height="28.54" fill="#80bcd9" stroke="#505050" stroke-width="0.5"/>
<text x="318.75" y="725.56" font-size="5.7" text-anchor="middle" font-weight="bold" fill="#111" stroke="#111">0.399</text>
<rect x="327.1" y="704.94" width="13.7" height="50.76" fill="#cb95b2" stroke="#505050" stroke-width="0.5"/>
<text x="332.45" y="703.34" font-size="5.7" text-anchor="middle" font-weight="bold" fill="#111" stroke="#111">0.554</text>
<rect x="340.8" y="699.06" width="13.7" height="56.64" fill="#fcd06e" stroke="#505050" stroke-width="0.5"/>
<text x="348.85" y="697.46" font-size="5.7" text-anchor="middle" font-weight="bold" fill="#111" stroke="#111">0.595</text>
<line x1="333.95" y1="755.7" x2="333.95" y2="758.1" stroke="#555" stroke-width="0.6"/>
<text x="333.95" y="767.7" text-anchor="middle" fill="#333" stroke="#333">DeepRare</text>
<text x="333.95" y="775.7" text-anchor="middle" fill="#333" stroke="#333">(HPO only)</text>
<rect x="368.4" y="704.22" width="13.7" height="51.48" fill="#80bcd9" stroke="#505050" stroke-width="0.5"/>
<text x="373.75" y="702.62" font-size="5.7" text-anchor="middle" font-weight="bold" fill="#111" stroke="#111">0.559</text>
<rect x="382.1" y="693.03" width="13.7" height="62.67" fill="#cb95b2" stroke="#505050" stroke-width="0.5"/>
<text x="387.45" y="691.43" font-size="5.7" text-anchor="middle" font-weight="bold" fill="#111" stroke="#111">0.637</text>
<rect x="395.8" y="689.74" width="13.7" height="65.96" fill="#fcd06e" stroke="#505050" stroke-width="0.5"/>
<text x="403.85" y="688.14" font-size="5.7" text-anchor="middle" font-weight="bold" fill="#111" stroke="#111">0.660</text>
<line x1="388.95" y1="755.7" x2="388.95" y2="758.1" stroke="#555" stroke-width="0.6"/>
<text x="388.95" y="767.7" text-anchor="middle" fill="#333" stroke="#333">Exomiser</text>
<text x="388.95" y="775.7" text-anchor="middle" fill="#333" stroke="#333">(HPO + gene)</text>
<rect x="423.1" y="685.29" width="13.7" height="70.41" fill="#80bcd9" stroke="#505050" stroke-width="0.5"/>
<text x="428.45" y="683.69" font-size="5.7" text-anchor="middle" font-weight="bold" fill="#111" stroke="#111">0.691</text>
<rect x="436.8" y="669.09" width="13.7" height="86.61" fill="#cb95b2" stroke="#505050" stroke-width="0.5"/>
<text x="442.15" y="667.49" font-size="5.7" text-anchor="middle" font-weight="bold" fill="#111" stroke="#111">0.804</text>
<rect x="450.5" y="666.65" width="13.7" height="89.05" fill="#fcd06e" stroke="#505050" stroke-width="0.5"/>
<text x="458.55" y="665.05" font-size="5.7" text-anchor="middle" font-weight="bold" fill="#111" stroke="#111">0.821</text>
<line x1="443.65" y1="755.7" x2="443.65" y2="758.1" stroke="#555" stroke-width="0.6"/>
<text x="443.65" y="767.7" text-anchor="middle" fill="#333" stroke="#333">DeepRare</text>
<text x="443.65" y="775.7" text-anchor="middle" fill="#333" stroke="#333">(HPO + gene)</text>
<text x="389.05" y="782.9" text-anchor="middle" stroke="#222">Methods</text>
<line x1="509.6" y1="654.3" x2="509.6" y2="755.7" stroke="#8c8c8c" stroke-width="1"/>
<line x1="509.1" y1="755.7" x2="675.5" y2="755.7" stroke="#8c8c8c" stroke-width="1"/>
<line x1="506.4" y1="755.7" x2="509.6" y2="755.7" stroke="#666" stroke-width="0.6"/>
<text x="504" y="758" text-anchor="end" fill="#333" stroke="#333">0.2</text>
<line x1="506.4" y1="741.36" x2="509.6" y2="741.36" stroke="#666" stroke-width="0.6"/>
<text x="504" y="743.66" text-anchor="end" fill="#333" stroke="#333">0.3</text>
<line x1="506.4" y1="727.02" x2="509.6" y2="727.02" stroke="#666" stroke-width="0.6"/>
<text x="504" y="729.32" text-anchor="end" fill="#333" stroke="#333">0.4</text>
<line x1="506.4" y1="712.68" x2="509.6" y2="712.68" stroke="#666" stroke-width="0.6"/>
<text x="504" y="714.98" text-anchor="end" fill="#333" stroke="#333">0.5</text>
<line x1="506.4" y1="698.34" x2="509.6" y2="698.34" stroke="#666" stroke-width="0.6"/>
<text x="504" y="700.64" text-anchor="end" fill="#333" stroke="#333">0.6</text>
<line x1="506.4" y1="684" x2="509.6" y2="684" stroke="#666" stroke-width="0.6"/>
<text x="504" y="686.3" text-anchor="end" fill="#333" stroke="#333">0.7</text>
<line x1="506.4" y1="669.66" x2="509.6" y2="669.66" stroke="#666" stroke-width="0.6"/>
<text x="504" y="671.96" text-anchor="end" fill="#333" stroke="#333">0.8</text>
<line x1="506.4" y1="655.32" x2="509.6" y2="655.32" stroke="#666" stroke-width="0.6"/>
<text x="504" y="657.62" text-anchor="end" fill="#333" stroke="#333">0.9</text>
<text transform="translate(487.5,705.6) rotate(-90)" text-anchor="middle" stroke="#222">Recall value</text>
<text x="590.9" y="648.3" text-anchor="middle" stroke="#222">Hunan hospital (<tspan font-style="italic">N</tspan> = 162)</text>
<rect x="513.3" y="659.2" width="9.8" height="3.7" fill="#80bcd9" stroke="#555" stroke-width="0.5"/>
<text x="526.1" y="662.9" stroke="#222">R@1</text>
<rect x="513.3" y="666.2" width="9.8" height="3.7" fill="#cb95b2" stroke="#555" stroke-width="0.5"/>
<text x="526.1" y="669.9" stroke="#222">R@3</text>
<rect x="513.3" y="673.4" width="9.8" height="3.7" fill="#fcd06e" stroke="#555" stroke-width="0.5"/>
<text x="526.1" y="677.1" stroke="#222">R@5</text>
<rect x="517.2" y="736.63" width="13.7" height="19.07" fill="#80bcd9" stroke="#505050" stroke-width="0.5"/>
<text x="522.55" y="735.03" font-size="5.7" text-anchor="middle" font-weight="bold" fill="#111" stroke="#111">0.333</text>
<rect x="530.9" y="725.01" width="13.7" height="30.69" fill="#cb95b2" stroke="#505050" stroke-width="0.5"/>
<text x="536.25" y="723.41" font-size="5.7" text-anchor="middle" font-weight="bold" fill="#111" stroke="#111">0.414</text>
<rect x="544.6" y="718.85" width="13.7" height="36.85" fill="#fcd06e" stroke="#505050" stroke-width="0.5"/>
<text x="552.65" y="717.25" font-size="5.7" text-anchor="middle" font-weight="bold" fill="#111" stroke="#111">0.457</text>
<line x1="537.75" y1="755.7" x2="537.75" y2="758.1" stroke="#555" stroke-width="0.6"/>
<text x="537.75" y="767.7" text-anchor="middle" fill="#333" stroke="#333">DeepRare</text>
<text x="537.75" y="775.7" text-anchor="middle" fill="#333" stroke="#333">(HPO only)</text>
<rect x="571.9" y="701.21" width="13.7" height="54.49" fill="#80bcd9" stroke="#505050" stroke-width="0.5"/>
<text x="577.25" y="699.61" font-size="5.7" text-anchor="middle" font-weight="bold" fill="#111" stroke="#111">0.580</text>
<rect x="585.6" y="678.26" width="13.7" height="77.44" fill="#cb95b2" stroke="#505050" stroke-width="0.5"/>
<text x="590.95" y="676.66" font-size="5.7" text-anchor="middle" font-weight="bold" fill="#111" stroke="#111">0.740</text>
<rect x="599.3" y="673.68" width="13.7" height="82.02" fill="#fcd06e" stroke="#505050" stroke-width="0.5"/>
<text x="607.35" y="672.08" font-size="5.7" text-anchor="middle" font-weight="bold" fill="#111" stroke="#111">0.772</text>
<line x1="592.45" y1="755.7" x2="592.45" y2="758.1" stroke="#555" stroke-width="0.6"/>
<text x="592.45" y="767.7" text-anchor="middle" fill="#333" stroke="#333">Exomiser</text>
<text x="592.45" y="775.7" text-anchor="middle" fill="#333" stroke="#333">(HPO + gene)</text>
<rect x="626.2" y="693.18" width="13.7" height="62.52" fill="#80bcd9" stroke="#505050" stroke-width="0.5"/>
<text x="631.55" y="691.58" font-size="5.7" text-anchor="middle" font-weight="bold" fill="#111" stroke="#111">0.636</text>
<rect x="639.9" y="672.81" width="13.7" height="82.89" fill="#cb95b2" stroke="#505050" stroke-width="0.5"/>
<text x="645.25" y="671.21" font-size="5.7" text-anchor="middle" font-weight="bold" fill="#111" stroke="#111">0.778</text>
<rect x="653.6" y="667.51" width="13.7" height="88.19" fill="#fcd06e" stroke="#505050" stroke-width="0.5"/>
<text x="661.65" y="665.91" font-size="5.7" text-anchor="middle" font-weight="bold" fill="#111" stroke="#111">0.815</text>
<line x1="646.75" y1="755.7" x2="646.75" y2="758.1" stroke="#555" stroke-width="0.6"/>
<text x="646.75" y="767.7" text-anchor="middle" fill="#333" stroke="#333">DeepRare</text>
<text x="646.75" y="775.7" text-anchor="middle" fill="#333" stroke="#333">(HPO + gene)</text>
<text x="592.55" y="782.9" text-anchor="middle" stroke="#222">Methods</text>
</g>
</svg>
</body></html>
